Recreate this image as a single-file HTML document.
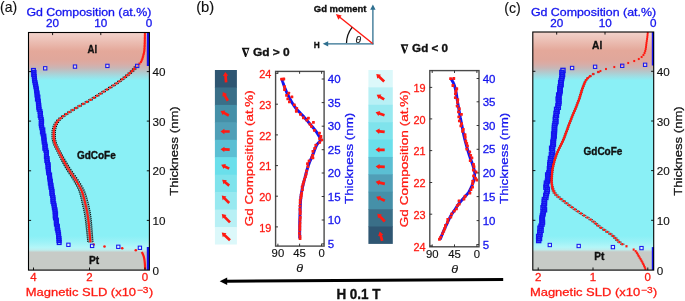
<!DOCTYPE html>
<html><head><meta charset="utf-8"><title>figure</title>
<style>html,body{margin:0;padding:0;background:#fff}svg{display:block;will-change:transform}text{font-family:"Liberation Sans",sans-serif}</style></head>
<body>
<svg width="685" height="301" viewBox="0 0 685 301" font-family='"Liberation Sans", sans-serif'>
<rect width="685" height="301" fill="#fff"/>
<defs>
<linearGradient id="bgA" x1="0" y1="0" x2="0" y2="1">
<stop offset="0.0000" stop-color="#f2d3cc"/>
<stop offset="0.0400" stop-color="#ebbdb2"/>
<stop offset="0.0779" stop-color="#e4a89a"/>
<stop offset="0.1136" stop-color="#e0a79b"/>
<stop offset="0.1326" stop-color="#d9aca6"/>
<stop offset="0.1494" stop-color="#c8b6b6"/>
<stop offset="0.1662" stop-color="#b4c8cc"/>
<stop offset="0.1831" stop-color="#a0dce2"/>
<stop offset="0.2020" stop-color="#8af0f6"/>
<stop offset="0.8565" stop-color="#8af0f6"/>
<stop offset="0.8817" stop-color="#9cf2f7"/>
<stop offset="0.9053" stop-color="#b4f6f8"/>
<stop offset="0.9154" stop-color="#bdeeee"/>
<stop offset="0.9251" stop-color="#c7cbc7"/>
<stop offset="1.0000" stop-color="#c7cbc7"/>
</linearGradient>
<linearGradient id="bgC" x1="0" y1="0" x2="0" y2="1">
<stop offset="0.0000" stop-color="#f2d3cc"/>
<stop offset="0.0399" stop-color="#ebbdb2"/>
<stop offset="0.0777" stop-color="#e4a89a"/>
<stop offset="0.1155" stop-color="#e0a79b"/>
<stop offset="0.1344" stop-color="#d9aca6"/>
<stop offset="0.1512" stop-color="#c8b6b6"/>
<stop offset="0.1680" stop-color="#b4c8cc"/>
<stop offset="0.1848" stop-color="#a0dce2"/>
<stop offset="0.2037" stop-color="#8af0f6"/>
<stop offset="0.8568" stop-color="#8af0f6"/>
<stop offset="0.8820" stop-color="#9cf2f7"/>
<stop offset="0.9038" stop-color="#b4f6f8"/>
<stop offset="0.9139" stop-color="#bdeeee"/>
<stop offset="0.9236" stop-color="#c7cbc7"/>
<stop offset="1.0000" stop-color="#c7cbc7"/>
</linearGradient>
</defs>
<rect x="28.5" y="32.5" width="120.9" height="237.6" fill="url(#bgA)"/>
<path d="M33.54 70.4 L34.43 76.35 L35.33 82.3 L36.23 88.26 L37.13 94.21 L38.02 100.16 L38.92 106.11 L39.81 112.06 L40.7 118.01 L41.59 123.97 L42.49 129.92 L43.38 135.87 L44.27 141.82 L45.2 147.77 L46.13 153.72 L47.06 159.68 L48 165.63 L48.93 171.58 L49.86 177.53 L50.76 183.48 L51.63 189.43 L52.51 195.39 L53.38 201.34 L54.25 207.29 L55.12 213.24 L55.99 219.19 L56.86 225.14 L57.73 231.1 L58.61 237.05 L59.48 243" fill="none" stroke="#1414ee" stroke-width="3.8" opacity="0.75"/>
<rect x="31.6" y="68.55" width="3.7" height="3.7" fill="none" stroke="#1414ee" stroke-width="1.3"/>
<rect x="32.22" y="70.6" width="3.7" height="3.7" fill="none" stroke="#1414ee" stroke-width="1.3"/>
<rect x="31.8" y="72.65" width="3.7" height="3.7" fill="none" stroke="#1414ee" stroke-width="1.3"/>
<rect x="32.42" y="74.7" width="3.7" height="3.7" fill="none" stroke="#1414ee" stroke-width="1.3"/>
<rect x="32.57" y="76.75" width="3.7" height="3.7" fill="none" stroke="#1414ee" stroke-width="1.3"/>
<rect x="32.82" y="78.8" width="3.7" height="3.7" fill="none" stroke="#1414ee" stroke-width="1.3"/>
<rect x="33.23" y="80.85" width="3.7" height="3.7" fill="none" stroke="#1414ee" stroke-width="1.3"/>
<rect x="33.7" y="82.9" width="3.7" height="3.7" fill="none" stroke="#1414ee" stroke-width="1.3"/>
<rect x="34.06" y="84.95" width="3.7" height="3.7" fill="none" stroke="#1414ee" stroke-width="1.3"/>
<rect x="34.51" y="87" width="3.7" height="3.7" fill="none" stroke="#1414ee" stroke-width="1.3"/>
<rect x="34.7" y="89.05" width="3.7" height="3.7" fill="none" stroke="#1414ee" stroke-width="1.3"/>
<rect x="35.27" y="91.1" width="3.7" height="3.7" fill="none" stroke="#1414ee" stroke-width="1.3"/>
<rect x="35.1" y="93.15" width="3.7" height="3.7" fill="none" stroke="#1414ee" stroke-width="1.3"/>
<rect x="36.08" y="95.2" width="3.7" height="3.7" fill="none" stroke="#1414ee" stroke-width="1.3"/>
<rect x="35.54" y="97.25" width="3.7" height="3.7" fill="none" stroke="#1414ee" stroke-width="1.3"/>
<rect x="36.49" y="99.3" width="3.7" height="3.7" fill="none" stroke="#1414ee" stroke-width="1.3"/>
<rect x="36.55" y="101.35" width="3.7" height="3.7" fill="none" stroke="#1414ee" stroke-width="1.3"/>
<rect x="37" y="103.4" width="3.7" height="3.7" fill="none" stroke="#1414ee" stroke-width="1.3"/>
<rect x="36.89" y="105.45" width="3.7" height="3.7" fill="none" stroke="#1414ee" stroke-width="1.3"/>
<rect x="37.25" y="107.5" width="3.7" height="3.7" fill="none" stroke="#1414ee" stroke-width="1.3"/>
<rect x="38.16" y="109.55" width="3.7" height="3.7" fill="none" stroke="#1414ee" stroke-width="1.3"/>
<rect x="38.64" y="111.6" width="3.7" height="3.7" fill="none" stroke="#1414ee" stroke-width="1.3"/>
<rect x="38.29" y="113.65" width="3.7" height="3.7" fill="none" stroke="#1414ee" stroke-width="1.3"/>
<rect x="38.97" y="115.7" width="3.7" height="3.7" fill="none" stroke="#1414ee" stroke-width="1.3"/>
<rect x="39.47" y="117.75" width="3.7" height="3.7" fill="none" stroke="#1414ee" stroke-width="1.3"/>
<rect x="39.79" y="119.8" width="3.7" height="3.7" fill="none" stroke="#1414ee" stroke-width="1.3"/>
<rect x="39.29" y="121.85" width="3.7" height="3.7" fill="none" stroke="#1414ee" stroke-width="1.3"/>
<rect x="39.55" y="123.9" width="3.7" height="3.7" fill="none" stroke="#1414ee" stroke-width="1.3"/>
<rect x="39.99" y="125.95" width="3.7" height="3.7" fill="none" stroke="#1414ee" stroke-width="1.3"/>
<rect x="41.01" y="128" width="3.7" height="3.7" fill="none" stroke="#1414ee" stroke-width="1.3"/>
<rect x="40.53" y="130.05" width="3.7" height="3.7" fill="none" stroke="#1414ee" stroke-width="1.3"/>
<rect x="41.16" y="132.1" width="3.7" height="3.7" fill="none" stroke="#1414ee" stroke-width="1.3"/>
<rect x="42.01" y="134.15" width="3.7" height="3.7" fill="none" stroke="#1414ee" stroke-width="1.3"/>
<rect x="41.89" y="136.2" width="3.7" height="3.7" fill="none" stroke="#1414ee" stroke-width="1.3"/>
<rect x="42.36" y="138.25" width="3.7" height="3.7" fill="none" stroke="#1414ee" stroke-width="1.3"/>
<rect x="42.29" y="140.3" width="3.7" height="3.7" fill="none" stroke="#1414ee" stroke-width="1.3"/>
<rect x="42.98" y="142.35" width="3.7" height="3.7" fill="none" stroke="#1414ee" stroke-width="1.3"/>
<rect x="43.45" y="144.4" width="3.7" height="3.7" fill="none" stroke="#1414ee" stroke-width="1.3"/>
<rect x="42.95" y="146.45" width="3.7" height="3.7" fill="none" stroke="#1414ee" stroke-width="1.3"/>
<rect x="44.01" y="148.5" width="3.7" height="3.7" fill="none" stroke="#1414ee" stroke-width="1.3"/>
<rect x="44.57" y="150.55" width="3.7" height="3.7" fill="none" stroke="#1414ee" stroke-width="1.3"/>
<rect x="44.65" y="152.6" width="3.7" height="3.7" fill="none" stroke="#1414ee" stroke-width="1.3"/>
<rect x="44.5" y="154.65" width="3.7" height="3.7" fill="none" stroke="#1414ee" stroke-width="1.3"/>
<rect x="45.33" y="156.7" width="3.7" height="3.7" fill="none" stroke="#1414ee" stroke-width="1.3"/>
<rect x="44.96" y="158.75" width="3.7" height="3.7" fill="none" stroke="#1414ee" stroke-width="1.3"/>
<rect x="45.63" y="160.8" width="3.7" height="3.7" fill="none" stroke="#1414ee" stroke-width="1.3"/>
<rect x="46.41" y="162.85" width="3.7" height="3.7" fill="none" stroke="#1414ee" stroke-width="1.3"/>
<rect x="46.11" y="164.9" width="3.7" height="3.7" fill="none" stroke="#1414ee" stroke-width="1.3"/>
<rect x="46.43" y="166.95" width="3.7" height="3.7" fill="none" stroke="#1414ee" stroke-width="1.3"/>
<rect x="46.59" y="169" width="3.7" height="3.7" fill="none" stroke="#1414ee" stroke-width="1.3"/>
<rect x="46.8" y="171.05" width="3.7" height="3.7" fill="none" stroke="#1414ee" stroke-width="1.3"/>
<rect x="47.78" y="173.1" width="3.7" height="3.7" fill="none" stroke="#1414ee" stroke-width="1.3"/>
<rect x="47.64" y="175.15" width="3.7" height="3.7" fill="none" stroke="#1414ee" stroke-width="1.3"/>
<rect x="48.01" y="177.2" width="3.7" height="3.7" fill="none" stroke="#1414ee" stroke-width="1.3"/>
<rect x="48.56" y="179.25" width="3.7" height="3.7" fill="none" stroke="#1414ee" stroke-width="1.3"/>
<rect x="48.42" y="181.3" width="3.7" height="3.7" fill="none" stroke="#1414ee" stroke-width="1.3"/>
<rect x="49.24" y="183.35" width="3.7" height="3.7" fill="none" stroke="#1414ee" stroke-width="1.3"/>
<rect x="49.11" y="185.4" width="3.7" height="3.7" fill="none" stroke="#1414ee" stroke-width="1.3"/>
<rect x="49.85" y="187.45" width="3.7" height="3.7" fill="none" stroke="#1414ee" stroke-width="1.3"/>
<rect x="50.26" y="189.5" width="3.7" height="3.7" fill="none" stroke="#1414ee" stroke-width="1.3"/>
<rect x="49.97" y="191.55" width="3.7" height="3.7" fill="none" stroke="#1414ee" stroke-width="1.3"/>
<rect x="50.58" y="193.6" width="3.7" height="3.7" fill="none" stroke="#1414ee" stroke-width="1.3"/>
<rect x="51.16" y="195.65" width="3.7" height="3.7" fill="none" stroke="#1414ee" stroke-width="1.3"/>
<rect x="51.18" y="197.7" width="3.7" height="3.7" fill="none" stroke="#1414ee" stroke-width="1.3"/>
<rect x="51.11" y="199.75" width="3.7" height="3.7" fill="none" stroke="#1414ee" stroke-width="1.3"/>
<rect x="51.9" y="201.8" width="3.7" height="3.7" fill="none" stroke="#1414ee" stroke-width="1.3"/>
<rect x="52.33" y="203.85" width="3.7" height="3.7" fill="none" stroke="#1414ee" stroke-width="1.3"/>
<rect x="52.48" y="205.9" width="3.7" height="3.7" fill="none" stroke="#1414ee" stroke-width="1.3"/>
<rect x="53.21" y="207.95" width="3.7" height="3.7" fill="none" stroke="#1414ee" stroke-width="1.3"/>
<rect x="53.15" y="210" width="3.7" height="3.7" fill="none" stroke="#1414ee" stroke-width="1.3"/>
<rect x="53.77" y="212.05" width="3.7" height="3.7" fill="none" stroke="#1414ee" stroke-width="1.3"/>
<rect x="53.3" y="214.1" width="3.7" height="3.7" fill="none" stroke="#1414ee" stroke-width="1.3"/>
<rect x="53.6" y="216.15" width="3.7" height="3.7" fill="none" stroke="#1414ee" stroke-width="1.3"/>
<rect x="54.57" y="218.2" width="3.7" height="3.7" fill="none" stroke="#1414ee" stroke-width="1.3"/>
<rect x="54.46" y="220.25" width="3.7" height="3.7" fill="none" stroke="#1414ee" stroke-width="1.3"/>
<rect x="54.53" y="222.3" width="3.7" height="3.7" fill="none" stroke="#1414ee" stroke-width="1.3"/>
<rect x="55.59" y="224.35" width="3.7" height="3.7" fill="none" stroke="#1414ee" stroke-width="1.3"/>
<rect x="55.31" y="226.4" width="3.7" height="3.7" fill="none" stroke="#1414ee" stroke-width="1.3"/>
<rect x="56.02" y="228.45" width="3.7" height="3.7" fill="none" stroke="#1414ee" stroke-width="1.3"/>
<rect x="56.29" y="230.5" width="3.7" height="3.7" fill="none" stroke="#1414ee" stroke-width="1.3"/>
<rect x="56.75" y="232.55" width="3.7" height="3.7" fill="none" stroke="#1414ee" stroke-width="1.3"/>
<rect x="56.79" y="234.6" width="3.7" height="3.7" fill="none" stroke="#1414ee" stroke-width="1.3"/>
<rect x="57.22" y="236.65" width="3.7" height="3.7" fill="none" stroke="#1414ee" stroke-width="1.3"/>
<rect x="57.12" y="238.7" width="3.7" height="3.7" fill="none" stroke="#1414ee" stroke-width="1.3"/>
<rect x="57.34" y="240.75" width="3.7" height="3.7" fill="none" stroke="#1414ee" stroke-width="1.3"/>
<line x1="147.9" y1="32.5" x2="147.9" y2="66" stroke="#1414ee" stroke-width="2.2"/>
<line x1="147.9" y1="247" x2="147.9" y2="270" stroke="#1414ee" stroke-width="2.2"/>
<rect x="143.9" y="32.1" width="2" height="2.2" fill="#ff1a12"/>
<rect x="143.89" y="33.7" width="2" height="2.2" fill="#ff1a12"/>
<rect x="143.86" y="35.3" width="2" height="2.2" fill="#ff1a12"/>
<rect x="143.84" y="36.9" width="2" height="2.2" fill="#ff1a12"/>
<rect x="143.81" y="38.5" width="2" height="2.2" fill="#ff1a12"/>
<rect x="143.78" y="40.1" width="2" height="2.2" fill="#ff1a12"/>
<rect x="143.74" y="41.7" width="2" height="2.2" fill="#ff1a12"/>
<rect x="143.69" y="43.3" width="2" height="2.2" fill="#ff1a12"/>
<rect x="143.63" y="44.9" width="2" height="2.2" fill="#ff1a12"/>
<rect x="143.55" y="46.5" width="2" height="2.2" fill="#ff1a12"/>
<rect x="143.45" y="48.1" width="2" height="2.2" fill="#ff1a12"/>
<rect x="143.32" y="49.7" width="2" height="2.2" fill="#ff1a12"/>
<rect x="143.03" y="51.3" width="2" height="2.2" fill="#ff1a12"/>
<rect x="142.65" y="52.9" width="2" height="2.2" fill="#ff1a12"/>
<rect x="142.25" y="54.5" width="2" height="2.2" fill="#ff1a12"/>
<rect x="141.83" y="56.1" width="2" height="2.2" fill="#ff1a12"/>
<rect x="141.34" y="57.7" width="2" height="2.2" fill="#ff1a12"/>
<rect x="140.74" y="59.3" width="2" height="2.2" fill="#ff1a12"/>
<rect x="139.93" y="60.9" width="2" height="2.2" fill="#ff1a12"/>
<rect x="138.47" y="62.5" width="2" height="2.2" fill="#ff1a12"/>
<rect x="136.5" y="64.1" width="2" height="2.2" fill="#ff1a12"/>
<path d="M134.19 67 h3.4" stroke="#222" stroke-width="0.5" opacity="0.6"/>
<rect x="133.64" y="66.35" width="1.1" height="1.3" fill="#111" opacity="1"/>
<rect x="137.04" y="66.35" width="1.1" height="1.3" fill="#111" opacity="1"/>
<path d="M132.44 69.05 h3.4" stroke="#222" stroke-width="0.5" opacity="0.6"/>
<rect x="131.89" y="68.4" width="1.1" height="1.3" fill="#111" opacity="1"/>
<rect x="135.29" y="68.4" width="1.1" height="1.3" fill="#111" opacity="1"/>
<path d="M130.37 71.1 h3.4" stroke="#222" stroke-width="0.5" opacity="0.6"/>
<rect x="129.82" y="70.45" width="1.1" height="1.3" fill="#111" opacity="1"/>
<rect x="133.22" y="70.45" width="1.1" height="1.3" fill="#111" opacity="1"/>
<path d="M128.1 73.15 h3.4" stroke="#222" stroke-width="0.5" opacity="0.6"/>
<rect x="127.55" y="72.5" width="1.1" height="1.3" fill="#111" opacity="1"/>
<rect x="130.95" y="72.5" width="1.1" height="1.3" fill="#111" opacity="1"/>
<path d="M125.7 75.2 h3.4" stroke="#222" stroke-width="0.5" opacity="0.6"/>
<rect x="125.15" y="74.55" width="1.1" height="1.3" fill="#111" opacity="1"/>
<rect x="128.55" y="74.55" width="1.1" height="1.3" fill="#111" opacity="1"/>
<path d="M123.17 77.25 h3.4" stroke="#222" stroke-width="0.5" opacity="0.6"/>
<rect x="122.62" y="76.6" width="1.1" height="1.3" fill="#111" opacity="1"/>
<rect x="126.02" y="76.6" width="1.1" height="1.3" fill="#111" opacity="1"/>
<path d="M120.5 79.3 h3.4" stroke="#222" stroke-width="0.5" opacity="0.6"/>
<rect x="119.95" y="78.65" width="1.1" height="1.3" fill="#111" opacity="1"/>
<rect x="123.35" y="78.65" width="1.1" height="1.3" fill="#111" opacity="1"/>
<path d="M117.7 81.35 h3.4" stroke="#222" stroke-width="0.5" opacity="0.6"/>
<rect x="117.15" y="80.7" width="1.1" height="1.3" fill="#111" opacity="1"/>
<rect x="120.55" y="80.7" width="1.1" height="1.3" fill="#111" opacity="1"/>
<path d="M114.8 83.4 h3.4" stroke="#222" stroke-width="0.5" opacity="0.6"/>
<rect x="114.25" y="82.75" width="1.1" height="1.3" fill="#111" opacity="1"/>
<rect x="117.65" y="82.75" width="1.1" height="1.3" fill="#111" opacity="1"/>
<path d="M111.74 85.45 h3.4" stroke="#222" stroke-width="0.5" opacity="0.6"/>
<rect x="111.19" y="84.8" width="1.1" height="1.3" fill="#111" opacity="1"/>
<rect x="114.59" y="84.8" width="1.1" height="1.3" fill="#111" opacity="1"/>
<path d="M108.52 87.5 h3.4" stroke="#222" stroke-width="0.5" opacity="0.6"/>
<rect x="107.97" y="86.85" width="1.1" height="1.3" fill="#111" opacity="1"/>
<rect x="111.37" y="86.85" width="1.1" height="1.3" fill="#111" opacity="1"/>
<path d="M105.22 89.55 h3.4" stroke="#222" stroke-width="0.5" opacity="0.6"/>
<rect x="104.67" y="88.9" width="1.1" height="1.3" fill="#111" opacity="1"/>
<rect x="108.07" y="88.9" width="1.1" height="1.3" fill="#111" opacity="1"/>
<path d="M101.93 91.6 h3.4" stroke="#222" stroke-width="0.5" opacity="0.6"/>
<rect x="101.38" y="90.95" width="1.1" height="1.3" fill="#111" opacity="1"/>
<rect x="104.78" y="90.95" width="1.1" height="1.3" fill="#111" opacity="1"/>
<path d="M98.71 93.65 h3.4" stroke="#222" stroke-width="0.5" opacity="0.6"/>
<rect x="98.16" y="93" width="1.1" height="1.3" fill="#111" opacity="1"/>
<rect x="101.56" y="93" width="1.1" height="1.3" fill="#111" opacity="1"/>
<path d="M95.51 95.7 h3.4" stroke="#222" stroke-width="0.5" opacity="0.6"/>
<rect x="94.96" y="95.05" width="1.1" height="1.3" fill="#111" opacity="1"/>
<rect x="98.36" y="95.05" width="1.1" height="1.3" fill="#111" opacity="1"/>
<path d="M92.25 97.75 h3.4" stroke="#222" stroke-width="0.5" opacity="0.6"/>
<rect x="91.7" y="97.1" width="1.1" height="1.3" fill="#111" opacity="1"/>
<rect x="95.1" y="97.1" width="1.1" height="1.3" fill="#111" opacity="1"/>
<path d="M88.85 99.8 h3.4" stroke="#222" stroke-width="0.5" opacity="0.6"/>
<rect x="88.3" y="99.15" width="1.1" height="1.3" fill="#111" opacity="1"/>
<rect x="91.7" y="99.15" width="1.1" height="1.3" fill="#111" opacity="1"/>
<path d="M85.22 101.85 h3.4" stroke="#222" stroke-width="0.5" opacity="0.6"/>
<rect x="84.67" y="101.2" width="1.1" height="1.3" fill="#111" opacity="1"/>
<rect x="88.07" y="101.2" width="1.1" height="1.3" fill="#111" opacity="1"/>
<path d="M81.5 103.9 h3.4" stroke="#222" stroke-width="0.5" opacity="0.6"/>
<rect x="80.95" y="103.25" width="1.1" height="1.3" fill="#111" opacity="1"/>
<rect x="84.35" y="103.25" width="1.1" height="1.3" fill="#111" opacity="1"/>
<path d="M77.9 105.95 h3.4" stroke="#222" stroke-width="0.5" opacity="0.6"/>
<rect x="77.35" y="105.3" width="1.1" height="1.3" fill="#111" opacity="1"/>
<rect x="80.75" y="105.3" width="1.1" height="1.3" fill="#111" opacity="1"/>
<path d="M74.4 108 h3.4" stroke="#222" stroke-width="0.5" opacity="0.6"/>
<rect x="73.85" y="107.35" width="1.1" height="1.3" fill="#111" opacity="1"/>
<rect x="77.25" y="107.35" width="1.1" height="1.3" fill="#111" opacity="1"/>
<path d="M70.98 110.05 h3.4" stroke="#222" stroke-width="0.5" opacity="0.6"/>
<rect x="70.43" y="109.4" width="1.1" height="1.3" fill="#111" opacity="1"/>
<rect x="73.83" y="109.4" width="1.1" height="1.3" fill="#111" opacity="1"/>
<path d="M67.68 112.1 h3.4" stroke="#222" stroke-width="0.5" opacity="0.6"/>
<rect x="67.13" y="111.45" width="1.1" height="1.3" fill="#111" opacity="1"/>
<rect x="70.53" y="111.45" width="1.1" height="1.3" fill="#111" opacity="1"/>
<path d="M64.46 114.15 h3.4" stroke="#222" stroke-width="0.5" opacity="0.6"/>
<rect x="63.91" y="113.5" width="1.1" height="1.3" fill="#111" opacity="1"/>
<rect x="67.31" y="113.5" width="1.1" height="1.3" fill="#111" opacity="1"/>
<path d="M61.49 116.2 h3.4" stroke="#222" stroke-width="0.5" opacity="0.6"/>
<rect x="60.94" y="115.55" width="1.1" height="1.3" fill="#111" opacity="1"/>
<rect x="64.34" y="115.55" width="1.1" height="1.3" fill="#111" opacity="1"/>
<path d="M58.89 118.25 h3.4" stroke="#222" stroke-width="0.5" opacity="0.6"/>
<rect x="58.34" y="117.6" width="1.1" height="1.3" fill="#111" opacity="1"/>
<rect x="61.74" y="117.6" width="1.1" height="1.3" fill="#111" opacity="1"/>
<path d="M56.69 120.3 h3.4" stroke="#222" stroke-width="0.5" opacity="0.6"/>
<rect x="56.14" y="119.65" width="1.1" height="1.3" fill="#111" opacity="1"/>
<rect x="59.54" y="119.65" width="1.1" height="1.3" fill="#111" opacity="1"/>
<path d="M55.17 122.35 h3.4" stroke="#222" stroke-width="0.5" opacity="0.6"/>
<rect x="54.62" y="121.7" width="1.1" height="1.3" fill="#111" opacity="1"/>
<rect x="58.02" y="121.7" width="1.1" height="1.3" fill="#111" opacity="1"/>
<path d="M53.95 124.4 h3.4" stroke="#222" stroke-width="0.5" opacity="0.6"/>
<rect x="53.4" y="123.75" width="1.1" height="1.3" fill="#111" opacity="1"/>
<rect x="56.8" y="123.75" width="1.1" height="1.3" fill="#111" opacity="1"/>
<path d="M53.11 126.45 h3.4" stroke="#222" stroke-width="0.5" opacity="0.6"/>
<rect x="52.56" y="125.8" width="1.1" height="1.3" fill="#111" opacity="1"/>
<rect x="55.96" y="125.8" width="1.1" height="1.3" fill="#111" opacity="1"/>
<path d="M52.54 128.5 h3.4" stroke="#222" stroke-width="0.5" opacity="0.6"/>
<rect x="51.99" y="127.85" width="1.1" height="1.3" fill="#111" opacity="1"/>
<rect x="55.39" y="127.85" width="1.1" height="1.3" fill="#111" opacity="1"/>
<path d="M52.12 130.55 h3.4" stroke="#222" stroke-width="0.5" opacity="0.6"/>
<rect x="51.57" y="129.9" width="1.1" height="1.3" fill="#111" opacity="1"/>
<rect x="54.97" y="129.9" width="1.1" height="1.3" fill="#111" opacity="1"/>
<path d="M52 132.6 h3.4" stroke="#222" stroke-width="0.5" opacity="0.6"/>
<rect x="51.45" y="131.95" width="1.1" height="1.3" fill="#111" opacity="1"/>
<rect x="54.85" y="131.95" width="1.1" height="1.3" fill="#111" opacity="1"/>
<path d="M52 134.65 h3.4" stroke="#222" stroke-width="0.5" opacity="0.6"/>
<rect x="51.45" y="134" width="1.1" height="1.3" fill="#111" opacity="1"/>
<rect x="54.85" y="134" width="1.1" height="1.3" fill="#111" opacity="1"/>
<path d="M52 136.7 h3.4" stroke="#222" stroke-width="0.5" opacity="0.6"/>
<rect x="51.45" y="136.05" width="1.1" height="1.3" fill="#111" opacity="1"/>
<rect x="54.85" y="136.05" width="1.1" height="1.3" fill="#111" opacity="1"/>
<path d="M52.08 138.75 h3.4" stroke="#222" stroke-width="0.5" opacity="0.6"/>
<rect x="51.53" y="138.1" width="1.1" height="1.3" fill="#111" opacity="1"/>
<rect x="54.93" y="138.1" width="1.1" height="1.3" fill="#111" opacity="1"/>
<path d="M52.5 140.8 h3.4" stroke="#222" stroke-width="0.5" opacity="0.6"/>
<rect x="51.95" y="140.15" width="1.1" height="1.3" fill="#111" opacity="1"/>
<rect x="55.35" y="140.15" width="1.1" height="1.3" fill="#111" opacity="1"/>
<path d="M53.05 142.85 h3.4" stroke="#222" stroke-width="0.5" opacity="0.6"/>
<rect x="52.5" y="142.2" width="1.1" height="1.3" fill="#111" opacity="1"/>
<rect x="55.9" y="142.2" width="1.1" height="1.3" fill="#111" opacity="1"/>
<path d="M53.79 144.9 h3.4" stroke="#222" stroke-width="0.5" opacity="0.6"/>
<rect x="53.24" y="144.25" width="1.1" height="1.3" fill="#111" opacity="1"/>
<rect x="56.64" y="144.25" width="1.1" height="1.3" fill="#111" opacity="1"/>
<path d="M54.71 146.95 h3.4" stroke="#222" stroke-width="0.5" opacity="0.6"/>
<rect x="54.16" y="146.3" width="1.1" height="1.3" fill="#111" opacity="1"/>
<rect x="57.56" y="146.3" width="1.1" height="1.3" fill="#111" opacity="1"/>
<path d="M55.74 149 h3.4" stroke="#222" stroke-width="0.5" opacity="0.6"/>
<rect x="55.19" y="148.35" width="1.1" height="1.3" fill="#111" opacity="1"/>
<rect x="58.59" y="148.35" width="1.1" height="1.3" fill="#111" opacity="1"/>
<path d="M56.8 151.05 h3.45" stroke="#222" stroke-width="0.5" opacity="0.6"/>
<rect x="56.25" y="150.4" width="1.1" height="1.3" fill="#111" opacity="1"/>
<rect x="59.7" y="150.4" width="1.1" height="1.3" fill="#111" opacity="1"/>
<path d="M57.82 153.1 h3.56" stroke="#222" stroke-width="0.5" opacity="0.6"/>
<rect x="57.27" y="152.45" width="1.1" height="1.3" fill="#111" opacity="1"/>
<rect x="60.83" y="152.45" width="1.1" height="1.3" fill="#111" opacity="1"/>
<path d="M58.8 155.15 h3.66" stroke="#222" stroke-width="0.5" opacity="0.6"/>
<rect x="58.25" y="154.5" width="1.1" height="1.3" fill="#111" opacity="1"/>
<rect x="61.91" y="154.5" width="1.1" height="1.3" fill="#111" opacity="1"/>
<path d="M59.8 157.2 h3.77" stroke="#222" stroke-width="0.5" opacity="0.6"/>
<rect x="59.25" y="156.55" width="1.1" height="1.3" fill="#111" opacity="1"/>
<rect x="63.02" y="156.55" width="1.1" height="1.3" fill="#111" opacity="1"/>
<path d="M60.83 159.25 h3.88" stroke="#222" stroke-width="0.5" opacity="0.6"/>
<rect x="60.28" y="158.6" width="1.1" height="1.3" fill="#111" opacity="1"/>
<rect x="64.16" y="158.6" width="1.1" height="1.3" fill="#111" opacity="1"/>
<path d="M61.9 161.3 h3.98" stroke="#222" stroke-width="0.5" opacity="0.6"/>
<rect x="61.35" y="160.65" width="1.1" height="1.3" fill="#111" opacity="1"/>
<rect x="65.33" y="160.65" width="1.1" height="1.3" fill="#111" opacity="1"/>
<path d="M63 163.35 h4.09" stroke="#222" stroke-width="0.5" opacity="0.6"/>
<rect x="62.45" y="162.7" width="1.1" height="1.3" fill="#111" opacity="1"/>
<rect x="66.54" y="162.7" width="1.1" height="1.3" fill="#111" opacity="1"/>
<path d="M64.13 165.4 h4.19" stroke="#222" stroke-width="0.5" opacity="0.6"/>
<rect x="63.58" y="164.75" width="1.1" height="1.3" fill="#111" opacity="1"/>
<rect x="67.77" y="164.75" width="1.1" height="1.3" fill="#111" opacity="1"/>
<path d="M65.28 167.45 h4.3" stroke="#222" stroke-width="0.5" opacity="0.6"/>
<rect x="64.73" y="166.8" width="1.1" height="1.3" fill="#111" opacity="1"/>
<rect x="69.03" y="166.8" width="1.1" height="1.3" fill="#111" opacity="1"/>
<path d="M66.49 169.5 h4.4" stroke="#222" stroke-width="0.5" opacity="0.6"/>
<rect x="65.94" y="168.85" width="1.1" height="1.3" fill="#111" opacity="1"/>
<rect x="70.34" y="168.85" width="1.1" height="1.3" fill="#111" opacity="1"/>
<path d="M67.78 171.55 h4.51" stroke="#222" stroke-width="0.5" opacity="0.6"/>
<rect x="67.23" y="170.9" width="1.1" height="1.3" fill="#111" opacity="1"/>
<rect x="71.74" y="170.9" width="1.1" height="1.3" fill="#111" opacity="1"/>
<path d="M69.13 173.6 h4.61" stroke="#222" stroke-width="0.5" opacity="0.6"/>
<rect x="68.58" y="172.95" width="1.1" height="1.3" fill="#111" opacity="1"/>
<rect x="73.19" y="172.95" width="1.1" height="1.3" fill="#111" opacity="1"/>
<path d="M70.49 175.65 h4.72" stroke="#222" stroke-width="0.5" opacity="0.6"/>
<rect x="69.94" y="175" width="1.1" height="1.3" fill="#111" opacity="1"/>
<rect x="74.66" y="175" width="1.1" height="1.3" fill="#111" opacity="1"/>
<path d="M71.83 177.7 h4.82" stroke="#222" stroke-width="0.5" opacity="0.6"/>
<rect x="71.28" y="177.05" width="1.1" height="1.3" fill="#111" opacity="1"/>
<rect x="76.1" y="177.05" width="1.1" height="1.3" fill="#111" opacity="1"/>
<path d="M73.11 179.75 h4.93" stroke="#222" stroke-width="0.5" opacity="0.6"/>
<rect x="72.56" y="179.1" width="1.1" height="1.3" fill="#111" opacity="1"/>
<rect x="77.49" y="179.1" width="1.1" height="1.3" fill="#111" opacity="1"/>
<path d="M74.3 181.8 h5.04" stroke="#222" stroke-width="0.5" opacity="0.6"/>
<rect x="73.75" y="181.15" width="1.1" height="1.3" fill="#111" opacity="1"/>
<rect x="78.78" y="181.15" width="1.1" height="1.3" fill="#111" opacity="1"/>
<path d="M75.46 183.85 h5.14" stroke="#222" stroke-width="0.5" opacity="0.6"/>
<rect x="74.91" y="183.2" width="1.1" height="1.3" fill="#111" opacity="1"/>
<rect x="80.05" y="183.2" width="1.1" height="1.3" fill="#111" opacity="1"/>
<path d="M76.6 185.9 h5.24" stroke="#222" stroke-width="0.5" opacity="0.6"/>
<rect x="76.05" y="185.25" width="1.1" height="1.3" fill="#111" opacity="1"/>
<rect x="81.3" y="185.25" width="1.1" height="1.3" fill="#111" opacity="1"/>
<path d="M77.66 187.95 h5.35" stroke="#222" stroke-width="0.5" opacity="0.6"/>
<rect x="77.11" y="187.3" width="1.1" height="1.3" fill="#111" opacity="1"/>
<rect x="82.46" y="187.3" width="1.1" height="1.3" fill="#111" opacity="1"/>
<path d="M78.59 190 h5.45" stroke="#222" stroke-width="0.5" opacity="0.6"/>
<rect x="78.04" y="189.35" width="1.1" height="1.3" fill="#111" opacity="1"/>
<rect x="83.49" y="189.35" width="1.1" height="1.3" fill="#111" opacity="1"/>
<path d="M79.33 192.05 h5.55" stroke="#222" stroke-width="0.5" opacity="0.6"/>
<rect x="78.78" y="191.4" width="1.1" height="1.3" fill="#111" opacity="1"/>
<rect x="84.33" y="191.4" width="1.1" height="1.3" fill="#111" opacity="1"/>
<path d="M79.96 194.1 h5.65" stroke="#222" stroke-width="0.5" opacity="0.6"/>
<rect x="79.41" y="193.45" width="1.1" height="1.3" fill="#111" opacity="1"/>
<rect x="85.07" y="193.45" width="1.1" height="1.3" fill="#111" opacity="1"/>
<path d="M80.52 196.15 h5.76" stroke="#222" stroke-width="0.5" opacity="0.6"/>
<rect x="79.97" y="195.5" width="1.1" height="1.3" fill="#111" opacity="1"/>
<rect x="85.73" y="195.5" width="1.1" height="1.3" fill="#111" opacity="1"/>
<path d="M81.02 198.2 h5.86" stroke="#222" stroke-width="0.5" opacity="0.6"/>
<rect x="80.47" y="197.55" width="1.1" height="1.3" fill="#111" opacity="1"/>
<rect x="86.33" y="197.55" width="1.1" height="1.3" fill="#111" opacity="1"/>
<path d="M81.49 200.25 h5.96" stroke="#222" stroke-width="0.5" opacity="0.6"/>
<rect x="80.94" y="199.6" width="1.1" height="1.3" fill="#111" opacity="1"/>
<rect x="86.9" y="199.6" width="1.1" height="1.3" fill="#111" opacity="1"/>
<path d="M81.93 202.3 h6.06" stroke="#222" stroke-width="0.5" opacity="0.6"/>
<rect x="81.38" y="201.65" width="1.1" height="1.3" fill="#111" opacity="1"/>
<rect x="87.45" y="201.65" width="1.1" height="1.3" fill="#111" opacity="1"/>
<path d="M82.37 204.35 h6.17" stroke="#222" stroke-width="0.5" opacity="0.6"/>
<rect x="81.82" y="203.7" width="1.1" height="1.3" fill="#111" opacity="1"/>
<rect x="87.99" y="203.7" width="1.1" height="1.3" fill="#111" opacity="1"/>
<path d="M82.86 206.4 h6.17" stroke="#222" stroke-width="0.5" opacity="0.6"/>
<rect x="82.31" y="205.75" width="1.1" height="1.3" fill="#111" opacity="1"/>
<rect x="88.48" y="205.75" width="1.1" height="1.3" fill="#111" opacity="1"/>
<path d="M83.35 208.45 h6.11" stroke="#222" stroke-width="0.5" opacity="0.6"/>
<rect x="82.8" y="207.8" width="1.1" height="1.3" fill="#111" opacity="1"/>
<rect x="88.92" y="207.8" width="1.1" height="1.3" fill="#111" opacity="1"/>
<path d="M83.81 210.5 h6.06" stroke="#222" stroke-width="0.5" opacity="0.6"/>
<rect x="83.26" y="209.85" width="1.1" height="1.3" fill="#111" opacity="1"/>
<rect x="89.33" y="209.85" width="1.1" height="1.3" fill="#111" opacity="1"/>
<path d="M84.23 212.55 h6.01" stroke="#222" stroke-width="0.5" opacity="0.6"/>
<rect x="83.68" y="211.9" width="1.1" height="1.3" fill="#111" opacity="1"/>
<rect x="89.69" y="211.9" width="1.1" height="1.3" fill="#111" opacity="1"/>
<path d="M84.6 214.6 h5.96" stroke="#222" stroke-width="0.5" opacity="0.6"/>
<rect x="84.05" y="213.95" width="1.1" height="1.3" fill="#111" opacity="1"/>
<rect x="90.01" y="213.95" width="1.1" height="1.3" fill="#111" opacity="1"/>
<path d="M84.93 216.65 h5.91" stroke="#222" stroke-width="0.5" opacity="0.6"/>
<rect x="84.38" y="216" width="1.1" height="1.3" fill="#111" opacity="1"/>
<rect x="90.28" y="216" width="1.1" height="1.3" fill="#111" opacity="1"/>
<path d="M85.23 218.7 h5.86" stroke="#222" stroke-width="0.5" opacity="0.6"/>
<rect x="84.68" y="218.05" width="1.1" height="1.3" fill="#111" opacity="1"/>
<rect x="90.53" y="218.05" width="1.1" height="1.3" fill="#111" opacity="1"/>
<path d="M85.5 220.75 h5.81" stroke="#222" stroke-width="0.5" opacity="0.6"/>
<rect x="84.95" y="220.1" width="1.1" height="1.3" fill="#111" opacity="1"/>
<rect x="90.76" y="220.1" width="1.1" height="1.3" fill="#111" opacity="1"/>
<path d="M85.75 222.8 h5.76" stroke="#222" stroke-width="0.5" opacity="0.6"/>
<rect x="85.2" y="222.15" width="1.1" height="1.3" fill="#111" opacity="1"/>
<rect x="90.96" y="222.15" width="1.1" height="1.3" fill="#111" opacity="1"/>
<path d="M85.97 224.85 h5.7" stroke="#222" stroke-width="0.5" opacity="0.6"/>
<rect x="85.42" y="224.2" width="1.1" height="1.3" fill="#111" opacity="1"/>
<rect x="91.13" y="224.2" width="1.1" height="1.3" fill="#111" opacity="1"/>
<path d="M86.18 226.9 h5.65" stroke="#222" stroke-width="0.5" opacity="0.6"/>
<rect x="85.63" y="226.25" width="1.1" height="1.3" fill="#111" opacity="1"/>
<rect x="91.29" y="226.25" width="1.1" height="1.3" fill="#111" opacity="1"/>
<path d="M86.39 228.95 h5.6" stroke="#222" stroke-width="0.5" opacity="0.6"/>
<rect x="85.84" y="228.3" width="1.1" height="1.3" fill="#111" opacity="1"/>
<rect x="91.45" y="228.3" width="1.1" height="1.3" fill="#111" opacity="1"/>
<path d="M86.62 231 h5.54" stroke="#222" stroke-width="0.5" opacity="0.6"/>
<rect x="86.07" y="230.35" width="1.1" height="1.3" fill="#111" opacity="1"/>
<rect x="91.6" y="230.35" width="1.1" height="1.3" fill="#111" opacity="1"/>
<path d="M86.84 233.05 h5.48" stroke="#222" stroke-width="0.5" opacity="0.6"/>
<rect x="86.29" y="232.4" width="1.1" height="1.3" fill="#111" opacity="1"/>
<rect x="91.76" y="232.4" width="1.1" height="1.3" fill="#111" opacity="1"/>
<path d="M87.06 235.1 h5.41" stroke="#222" stroke-width="0.5" opacity="0.6"/>
<rect x="86.51" y="234.45" width="1.1" height="1.3" fill="#111" opacity="1"/>
<rect x="91.92" y="234.45" width="1.1" height="1.3" fill="#111" opacity="1"/>
<path d="M87.27 237.15 h5.35" stroke="#222" stroke-width="0.5" opacity="0.6"/>
<rect x="86.72" y="236.5" width="1.1" height="1.3" fill="#111" opacity="1"/>
<rect x="92.07" y="236.5" width="1.1" height="1.3" fill="#111" opacity="1"/>
<path d="M87.49 239.2 h5.29" stroke="#222" stroke-width="0.5" opacity="0.6"/>
<rect x="86.94" y="238.55" width="1.1" height="1.3" fill="#111" opacity="1"/>
<rect x="92.23" y="238.55" width="1.1" height="1.3" fill="#111" opacity="1"/>
<path d="M87.7 241.25 h5.22" stroke="#222" stroke-width="0.5" opacity="0.6"/>
<rect x="87.15" y="240.6" width="1.1" height="1.3" fill="#111" opacity="1"/>
<rect x="92.38" y="240.6" width="1.1" height="1.3" fill="#111" opacity="1"/>
<path d="M61.42 160 h3.51" stroke="#222" stroke-width="0.5" opacity="0.6"/>
<rect x="60.97" y="159.45" width="0.9" height="1.1" fill="#111" opacity="0.55"/>
<rect x="64.49" y="159.45" width="0.9" height="1.1" fill="#111" opacity="0.55"/>
<path d="M62.54 162.05 h3.54" stroke="#222" stroke-width="0.5" opacity="0.6"/>
<rect x="62.09" y="161.5" width="0.9" height="1.1" fill="#111" opacity="0.55"/>
<rect x="65.63" y="161.5" width="0.9" height="1.1" fill="#111" opacity="0.55"/>
<path d="M63.69 164.1 h3.56" stroke="#222" stroke-width="0.5" opacity="0.6"/>
<rect x="63.24" y="163.55" width="0.9" height="1.1" fill="#111" opacity="0.55"/>
<rect x="66.8" y="163.55" width="0.9" height="1.1" fill="#111" opacity="0.55"/>
<path d="M64.87 166.15 h3.58" stroke="#222" stroke-width="0.5" opacity="0.6"/>
<rect x="64.42" y="165.6" width="0.9" height="1.1" fill="#111" opacity="0.55"/>
<rect x="68" y="165.6" width="0.9" height="1.1" fill="#111" opacity="0.55"/>
<path d="M66.08 168.2 h3.61" stroke="#222" stroke-width="0.5" opacity="0.6"/>
<rect x="65.63" y="167.65" width="0.9" height="1.1" fill="#111" opacity="0.55"/>
<rect x="69.23" y="167.65" width="0.9" height="1.1" fill="#111" opacity="0.55"/>
<path d="M67.36 170.25 h3.63" stroke="#222" stroke-width="0.5" opacity="0.6"/>
<rect x="66.91" y="169.7" width="0.9" height="1.1" fill="#111" opacity="0.55"/>
<rect x="70.54" y="169.7" width="0.9" height="1.1" fill="#111" opacity="0.55"/>
<path d="M68.72 172.3 h3.65" stroke="#222" stroke-width="0.5" opacity="0.6"/>
<rect x="68.27" y="171.75" width="0.9" height="1.1" fill="#111" opacity="0.55"/>
<rect x="71.92" y="171.75" width="0.9" height="1.1" fill="#111" opacity="0.55"/>
<path d="M70.11 174.35 h3.68" stroke="#222" stroke-width="0.5" opacity="0.6"/>
<rect x="69.66" y="173.8" width="0.9" height="1.1" fill="#111" opacity="0.55"/>
<rect x="73.34" y="173.8" width="0.9" height="1.1" fill="#111" opacity="0.55"/>
<path d="M71.51 176.4 h3.7" stroke="#222" stroke-width="0.5" opacity="0.6"/>
<rect x="71.06" y="175.85" width="0.9" height="1.1" fill="#111" opacity="0.55"/>
<rect x="74.76" y="175.85" width="0.9" height="1.1" fill="#111" opacity="0.55"/>
<path d="M72.87 178.45 h3.73" stroke="#222" stroke-width="0.5" opacity="0.6"/>
<rect x="72.42" y="177.9" width="0.9" height="1.1" fill="#111" opacity="0.55"/>
<rect x="76.15" y="177.9" width="0.9" height="1.1" fill="#111" opacity="0.55"/>
<path d="M74.17 180.5 h3.75" stroke="#222" stroke-width="0.5" opacity="0.6"/>
<rect x="73.72" y="179.95" width="0.9" height="1.1" fill="#111" opacity="0.55"/>
<rect x="77.46" y="179.95" width="0.9" height="1.1" fill="#111" opacity="0.55"/>
<path d="M75.37 182.55 h3.77" stroke="#222" stroke-width="0.5" opacity="0.6"/>
<rect x="74.92" y="182" width="0.9" height="1.1" fill="#111" opacity="0.55"/>
<rect x="78.69" y="182" width="0.9" height="1.1" fill="#111" opacity="0.55"/>
<path d="M76.57 184.6 h3.8" stroke="#222" stroke-width="0.5" opacity="0.6"/>
<rect x="76.12" y="184.05" width="0.9" height="1.1" fill="#111" opacity="0.55"/>
<rect x="79.92" y="184.05" width="0.9" height="1.1" fill="#111" opacity="0.55"/>
<path d="M77.73 186.65 h3.83" stroke="#222" stroke-width="0.5" opacity="0.6"/>
<rect x="77.28" y="186.1" width="0.9" height="1.1" fill="#111" opacity="0.55"/>
<rect x="81.11" y="186.1" width="0.9" height="1.1" fill="#111" opacity="0.55"/>
<path d="M78.78 188.7 h3.87" stroke="#222" stroke-width="0.5" opacity="0.6"/>
<rect x="78.33" y="188.15" width="0.9" height="1.1" fill="#111" opacity="0.55"/>
<rect x="82.2" y="188.15" width="0.9" height="1.1" fill="#111" opacity="0.55"/>
<path d="M79.67 190.75 h3.92" stroke="#222" stroke-width="0.5" opacity="0.6"/>
<rect x="79.22" y="190.2" width="0.9" height="1.1" fill="#111" opacity="0.55"/>
<rect x="83.13" y="190.2" width="0.9" height="1.1" fill="#111" opacity="0.55"/>
<path d="M80.39 192.8 h3.96" stroke="#222" stroke-width="0.5" opacity="0.6"/>
<rect x="79.94" y="192.25" width="0.9" height="1.1" fill="#111" opacity="0.55"/>
<rect x="83.89" y="192.25" width="0.9" height="1.1" fill="#111" opacity="0.55"/>
<path d="M81.02 194.85 h4" stroke="#222" stroke-width="0.5" opacity="0.6"/>
<rect x="80.57" y="194.3" width="0.9" height="1.1" fill="#111" opacity="0.55"/>
<rect x="84.57" y="194.3" width="0.9" height="1.1" fill="#111" opacity="0.55"/>
<path d="M81.59 196.9 h4.04" stroke="#222" stroke-width="0.5" opacity="0.6"/>
<rect x="81.14" y="196.35" width="0.9" height="1.1" fill="#111" opacity="0.55"/>
<rect x="85.17" y="196.35" width="0.9" height="1.1" fill="#111" opacity="0.55"/>
<path d="M82.1 198.95 h4.08" stroke="#222" stroke-width="0.5" opacity="0.6"/>
<rect x="81.65" y="198.4" width="0.9" height="1.1" fill="#111" opacity="0.55"/>
<rect x="85.73" y="198.4" width="0.9" height="1.1" fill="#111" opacity="0.55"/>
<path d="M82.59 201 h4.12" stroke="#222" stroke-width="0.5" opacity="0.6"/>
<rect x="82.14" y="200.45" width="0.9" height="1.1" fill="#111" opacity="0.55"/>
<rect x="86.26" y="200.45" width="0.9" height="1.1" fill="#111" opacity="0.55"/>
<path d="M83.06 203.05 h4.16" stroke="#222" stroke-width="0.5" opacity="0.6"/>
<rect x="82.61" y="202.5" width="0.9" height="1.1" fill="#111" opacity="0.55"/>
<rect x="86.77" y="202.5" width="0.9" height="1.1" fill="#111" opacity="0.55"/>
<path d="M83.54 205.1 h4.2" stroke="#222" stroke-width="0.5" opacity="0.6"/>
<rect x="83.09" y="204.55" width="0.9" height="1.1" fill="#111" opacity="0.55"/>
<rect x="87.29" y="204.55" width="0.9" height="1.1" fill="#111" opacity="0.55"/>
<path d="M84.03 207.15 h4.18" stroke="#222" stroke-width="0.5" opacity="0.6"/>
<rect x="83.58" y="206.6" width="0.9" height="1.1" fill="#111" opacity="0.55"/>
<rect x="87.76" y="206.6" width="0.9" height="1.1" fill="#111" opacity="0.55"/>
<path d="M84.49 209.2 h4.16" stroke="#222" stroke-width="0.5" opacity="0.6"/>
<rect x="84.04" y="208.65" width="0.9" height="1.1" fill="#111" opacity="0.55"/>
<rect x="88.21" y="208.65" width="0.9" height="1.1" fill="#111" opacity="0.55"/>
<path d="M84.92 211.25 h4.15" stroke="#222" stroke-width="0.5" opacity="0.6"/>
<rect x="84.47" y="210.7" width="0.9" height="1.1" fill="#111" opacity="0.55"/>
<rect x="88.62" y="210.7" width="0.9" height="1.1" fill="#111" opacity="0.55"/>
<path d="M85.3 213.3 h4.13" stroke="#222" stroke-width="0.5" opacity="0.6"/>
<rect x="84.85" y="212.75" width="0.9" height="1.1" fill="#111" opacity="0.55"/>
<rect x="88.98" y="212.75" width="0.9" height="1.1" fill="#111" opacity="0.55"/>
<path d="M85.63 215.35 h4.11" stroke="#222" stroke-width="0.5" opacity="0.6"/>
<rect x="85.18" y="214.8" width="0.9" height="1.1" fill="#111" opacity="0.55"/>
<rect x="89.3" y="214.8" width="0.9" height="1.1" fill="#111" opacity="0.55"/>
<path d="M85.94 217.4 h4.1" stroke="#222" stroke-width="0.5" opacity="0.6"/>
<rect x="85.49" y="216.85" width="0.9" height="1.1" fill="#111" opacity="0.55"/>
<rect x="89.58" y="216.85" width="0.9" height="1.1" fill="#111" opacity="0.55"/>
<path d="M86.21 219.45 h4.08" stroke="#222" stroke-width="0.5" opacity="0.6"/>
<rect x="85.76" y="218.9" width="0.9" height="1.1" fill="#111" opacity="0.55"/>
<rect x="89.84" y="218.9" width="0.9" height="1.1" fill="#111" opacity="0.55"/>
<path d="M86.46 221.5 h4.06" stroke="#222" stroke-width="0.5" opacity="0.6"/>
<rect x="86.01" y="220.95" width="0.9" height="1.1" fill="#111" opacity="0.55"/>
<rect x="90.07" y="220.95" width="0.9" height="1.1" fill="#111" opacity="0.55"/>
<path d="M86.68 223.55 h4.05" stroke="#222" stroke-width="0.5" opacity="0.6"/>
<rect x="86.23" y="223" width="0.9" height="1.1" fill="#111" opacity="0.55"/>
<rect x="90.28" y="223" width="0.9" height="1.1" fill="#111" opacity="0.55"/>
<path d="M86.88 225.6 h4.03" stroke="#222" stroke-width="0.5" opacity="0.6"/>
<rect x="86.43" y="225.05" width="0.9" height="1.1" fill="#111" opacity="0.55"/>
<rect x="90.46" y="225.05" width="0.9" height="1.1" fill="#111" opacity="0.55"/>
<path d="M87.07 227.65 h4.01" stroke="#222" stroke-width="0.5" opacity="0.6"/>
<rect x="86.62" y="227.1" width="0.9" height="1.1" fill="#111" opacity="0.55"/>
<rect x="90.63" y="227.1" width="0.9" height="1.1" fill="#111" opacity="0.55"/>
<path d="M87.27 229.7 h3.99" stroke="#222" stroke-width="0.5" opacity="0.6"/>
<rect x="86.82" y="229.15" width="0.9" height="1.1" fill="#111" opacity="0.55"/>
<rect x="90.81" y="229.15" width="0.9" height="1.1" fill="#111" opacity="0.55"/>
<path d="M87.48 231.75 h3.96" stroke="#222" stroke-width="0.5" opacity="0.6"/>
<rect x="87.03" y="231.2" width="0.9" height="1.1" fill="#111" opacity="0.55"/>
<rect x="90.98" y="231.2" width="0.9" height="1.1" fill="#111" opacity="0.55"/>
<path d="M87.68 233.8 h3.93" stroke="#222" stroke-width="0.5" opacity="0.6"/>
<rect x="87.23" y="233.25" width="0.9" height="1.1" fill="#111" opacity="0.55"/>
<rect x="91.16" y="233.25" width="0.9" height="1.1" fill="#111" opacity="0.55"/>
<path d="M87.88 235.85 h3.89" stroke="#222" stroke-width="0.5" opacity="0.6"/>
<rect x="87.43" y="235.3" width="0.9" height="1.1" fill="#111" opacity="0.55"/>
<rect x="91.33" y="235.3" width="0.9" height="1.1" fill="#111" opacity="0.55"/>
<path d="M88.08 237.9 h3.86" stroke="#222" stroke-width="0.5" opacity="0.6"/>
<rect x="87.63" y="237.35" width="0.9" height="1.1" fill="#111" opacity="0.55"/>
<rect x="91.5" y="237.35" width="0.9" height="1.1" fill="#111" opacity="0.55"/>
<path d="M88.28 239.95 h3.83" stroke="#222" stroke-width="0.5" opacity="0.6"/>
<rect x="87.83" y="239.4" width="0.9" height="1.1" fill="#111" opacity="0.55"/>
<rect x="91.67" y="239.4" width="0.9" height="1.1" fill="#111" opacity="0.55"/>
<path d="M88.48 242 h3.8" stroke="#222" stroke-width="0.5" opacity="0.6"/>
<rect x="88.03" y="241.45" width="0.9" height="1.1" fill="#111" opacity="0.55"/>
<rect x="91.83" y="241.45" width="0.9" height="1.1" fill="#111" opacity="0.55"/>
<rect x="134.79" y="65.8" width="2.2" height="2.4" fill="#ff1a12"/>
<rect x="133.04" y="67.85" width="2.2" height="2.4" fill="#ff1a12"/>
<rect x="130.97" y="69.9" width="2.2" height="2.4" fill="#ff1a12"/>
<rect x="128.7" y="71.95" width="2.2" height="2.4" fill="#ff1a12"/>
<rect x="126.3" y="74" width="2.2" height="2.4" fill="#ff1a12"/>
<rect x="123.77" y="76.05" width="2.2" height="2.4" fill="#ff1a12"/>
<rect x="121.1" y="78.1" width="2.2" height="2.4" fill="#ff1a12"/>
<rect x="118.3" y="80.15" width="2.2" height="2.4" fill="#ff1a12"/>
<rect x="115.4" y="82.2" width="2.2" height="2.4" fill="#ff1a12"/>
<rect x="112.34" y="84.25" width="2.2" height="2.4" fill="#ff1a12"/>
<rect x="109.12" y="86.3" width="2.2" height="2.4" fill="#ff1a12"/>
<rect x="105.82" y="88.35" width="2.2" height="2.4" fill="#ff1a12"/>
<rect x="102.53" y="90.4" width="2.2" height="2.4" fill="#ff1a12"/>
<rect x="99.31" y="92.45" width="2.2" height="2.4" fill="#ff1a12"/>
<rect x="96.11" y="94.5" width="2.2" height="2.4" fill="#ff1a12"/>
<rect x="92.85" y="96.55" width="2.2" height="2.4" fill="#ff1a12"/>
<rect x="89.45" y="98.6" width="2.2" height="2.4" fill="#ff1a12"/>
<rect x="85.82" y="100.65" width="2.2" height="2.4" fill="#ff1a12"/>
<rect x="82.1" y="102.7" width="2.2" height="2.4" fill="#ff1a12"/>
<rect x="78.5" y="104.75" width="2.2" height="2.4" fill="#ff1a12"/>
<rect x="75" y="106.8" width="2.2" height="2.4" fill="#ff1a12"/>
<rect x="71.58" y="108.85" width="2.2" height="2.4" fill="#ff1a12"/>
<rect x="68.28" y="110.9" width="2.2" height="2.4" fill="#ff1a12"/>
<rect x="65.06" y="112.95" width="2.2" height="2.4" fill="#ff1a12"/>
<rect x="62.09" y="115" width="2.2" height="2.4" fill="#ff1a12"/>
<rect x="59.49" y="117.05" width="2.2" height="2.4" fill="#ff1a12"/>
<rect x="57.29" y="119.1" width="2.2" height="2.4" fill="#ff1a12"/>
<rect x="55.77" y="121.15" width="2.2" height="2.4" fill="#ff1a12"/>
<rect x="54.55" y="123.2" width="2.2" height="2.4" fill="#ff1a12"/>
<rect x="53.71" y="125.25" width="2.2" height="2.4" fill="#ff1a12"/>
<rect x="53.14" y="127.3" width="2.2" height="2.4" fill="#ff1a12"/>
<rect x="52.72" y="129.35" width="2.2" height="2.4" fill="#ff1a12"/>
<rect x="52.6" y="131.4" width="2.2" height="2.4" fill="#ff1a12"/>
<rect x="52.6" y="133.45" width="2.2" height="2.4" fill="#ff1a12"/>
<rect x="52.6" y="135.5" width="2.2" height="2.4" fill="#ff1a12"/>
<rect x="52.68" y="137.55" width="2.2" height="2.4" fill="#ff1a12"/>
<rect x="53.1" y="139.6" width="2.2" height="2.4" fill="#ff1a12"/>
<rect x="53.65" y="141.65" width="2.2" height="2.4" fill="#ff1a12"/>
<rect x="54.39" y="143.7" width="2.2" height="2.4" fill="#ff1a12"/>
<rect x="55.31" y="145.75" width="2.2" height="2.4" fill="#ff1a12"/>
<rect x="56.34" y="147.8" width="2.2" height="2.4" fill="#ff1a12"/>
<rect x="57.42" y="149.85" width="2.2" height="2.4" fill="#ff1a12"/>
<rect x="58.5" y="151.9" width="2.2" height="2.4" fill="#ff1a12"/>
<rect x="59.53" y="153.95" width="2.2" height="2.4" fill="#ff1a12"/>
<rect x="60.58" y="156" width="2.2" height="2.4" fill="#ff1a12"/>
<rect x="61.67" y="158.05" width="2.2" height="2.4" fill="#ff1a12"/>
<rect x="62.79" y="160.1" width="2.2" height="2.4" fill="#ff1a12"/>
<rect x="63.94" y="162.15" width="2.2" height="2.4" fill="#ff1a12"/>
<rect x="65.12" y="164.2" width="2.2" height="2.4" fill="#ff1a12"/>
<rect x="66.33" y="166.25" width="2.2" height="2.4" fill="#ff1a12"/>
<rect x="67.59" y="168.3" width="2.2" height="2.4" fill="#ff1a12"/>
<rect x="68.94" y="170.35" width="2.2" height="2.4" fill="#ff1a12"/>
<rect x="70.33" y="172.4" width="2.2" height="2.4" fill="#ff1a12"/>
<rect x="71.75" y="174.45" width="2.2" height="2.4" fill="#ff1a12"/>
<rect x="73.14" y="176.5" width="2.2" height="2.4" fill="#ff1a12"/>
<rect x="74.47" y="178.55" width="2.2" height="2.4" fill="#ff1a12"/>
<rect x="75.72" y="180.6" width="2.2" height="2.4" fill="#ff1a12"/>
<rect x="76.93" y="182.65" width="2.2" height="2.4" fill="#ff1a12"/>
<rect x="78.12" y="184.7" width="2.2" height="2.4" fill="#ff1a12"/>
<rect x="79.24" y="186.75" width="2.2" height="2.4" fill="#ff1a12"/>
<rect x="80.22" y="188.8" width="2.2" height="2.4" fill="#ff1a12"/>
<rect x="81.01" y="190.85" width="2.2" height="2.4" fill="#ff1a12"/>
<rect x="81.69" y="192.9" width="2.2" height="2.4" fill="#ff1a12"/>
<rect x="82.3" y="194.95" width="2.2" height="2.4" fill="#ff1a12"/>
<rect x="82.85" y="197" width="2.2" height="2.4" fill="#ff1a12"/>
<rect x="83.37" y="199.05" width="2.2" height="2.4" fill="#ff1a12"/>
<rect x="83.86" y="201.1" width="2.2" height="2.4" fill="#ff1a12"/>
<rect x="84.36" y="203.15" width="2.2" height="2.4" fill="#ff1a12"/>
<rect x="84.84" y="205.2" width="2.2" height="2.4" fill="#ff1a12"/>
<rect x="85.31" y="207.25" width="2.2" height="2.4" fill="#ff1a12"/>
<rect x="85.75" y="209.3" width="2.2" height="2.4" fill="#ff1a12"/>
<rect x="86.14" y="211.35" width="2.2" height="2.4" fill="#ff1a12"/>
<rect x="86.48" y="213.4" width="2.2" height="2.4" fill="#ff1a12"/>
<rect x="86.78" y="215.45" width="2.2" height="2.4" fill="#ff1a12"/>
<rect x="87.06" y="217.5" width="2.2" height="2.4" fill="#ff1a12"/>
<rect x="87.3" y="219.55" width="2.2" height="2.4" fill="#ff1a12"/>
<rect x="87.53" y="221.6" width="2.2" height="2.4" fill="#ff1a12"/>
<rect x="87.73" y="223.65" width="2.2" height="2.4" fill="#ff1a12"/>
<rect x="87.91" y="225.7" width="2.2" height="2.4" fill="#ff1a12"/>
<rect x="88.1" y="227.75" width="2.2" height="2.4" fill="#ff1a12"/>
<rect x="88.29" y="229.8" width="2.2" height="2.4" fill="#ff1a12"/>
<rect x="88.47" y="231.85" width="2.2" height="2.4" fill="#ff1a12"/>
<rect x="88.66" y="233.9" width="2.2" height="2.4" fill="#ff1a12"/>
<rect x="88.85" y="235.95" width="2.2" height="2.4" fill="#ff1a12"/>
<rect x="89.03" y="238" width="2.2" height="2.4" fill="#ff1a12"/>
<rect x="89.22" y="240.05" width="2.2" height="2.4" fill="#ff1a12"/>
<path d="M141.7 252 L141.97 252.45 L142.22 252.9 L142.46 253.35 L142.68 253.81 L142.89 254.26 L143.09 254.71 L143.28 255.16 L143.46 255.61 L143.62 256.06 L143.77 256.51 L143.89 256.96 L143.99 257.42 L144.09 257.87 L144.18 258.32 L144.26 258.77 L144.34 259.22 L144.41 259.67 L144.47 260.12 L144.54 260.57 L144.59 261.03 L144.64 261.48 L144.69 261.93 L144.74 262.38 L144.78 262.83 L144.82 263.28 L144.86 263.73 L144.89 264.18 L144.93 264.64 L144.95 265.09 L144.98 265.54 L145 265.99 L145.02 266.44 L145.03 266.89 L145.05 267.34 L145.07 267.79 L145.08 268.25 L145.09 268.7 L145.1 269.15 L145.1 269.6" fill="none" stroke="#ff1a12" stroke-width="2.2"/>
<circle cx="93.6" cy="244.6" r="1.3" fill="#ff1a12"/>
<circle cx="104.5" cy="246.5" r="1.3" fill="#ff1a12"/>
<circle cx="122.2" cy="248.3" r="1.3" fill="#ff1a12"/>
<circle cx="135.8" cy="250.3" r="1.3" fill="#ff1a12"/>
<rect x="135.55" y="64.25" width="3.3" height="3.3" fill="#fff" fill-opacity="0.45" stroke="#1818f0" stroke-width="1.05"/>
<rect x="105.75" y="64.25" width="3.3" height="3.3" fill="#fff" fill-opacity="0.45" stroke="#1818f0" stroke-width="1.05"/>
<rect x="73.35" y="64.95" width="3.3" height="3.3" fill="#fff" fill-opacity="0.45" stroke="#1818f0" stroke-width="1.05"/>
<rect x="43.55" y="66.65" width="3.3" height="3.3" fill="#fff" fill-opacity="0.45" stroke="#1818f0" stroke-width="1.05"/>
<rect x="66.75" y="243.15" width="3.3" height="3.3" fill="#fff" fill-opacity="0.45" stroke="#1818f0" stroke-width="1.05"/>
<rect x="90.45" y="244.25" width="3.3" height="3.3" fill="#fff" fill-opacity="0.45" stroke="#1818f0" stroke-width="1.05"/>
<rect x="116.65" y="245.15" width="3.3" height="3.3" fill="#fff" fill-opacity="0.45" stroke="#1818f0" stroke-width="1.05"/>
<rect x="138.25" y="246.15" width="3.3" height="3.3" fill="#fff" fill-opacity="0.45" stroke="#1818f0" stroke-width="1.05"/>
<rect x="28.5" y="32.5" width="120.9" height="237.6" fill="none" stroke="#000" stroke-width="1.1"/>
<path d="M52.6 32.5 v2.6 M100.8 32.5 v2.6 M33.5 270.1 v-2.6 M89.5 270.1 v-2.6 M145 270.1 v-2.6 M28.5 71.6 h2.6 M149.4 71.6 h-2.6 M28.5 121.1 h2.6 M149.4 121.1 h-2.6 M28.5 170.8 h2.6 M149.4 170.8 h-2.6 M28.5 220.4 h2.6 M149.4 220.4 h-2.6" stroke="#000" stroke-width="0.9" fill="none"/>
<text x="0" y="11.9" font-size="14.2" fill="#111" font-weight="normal" font-style="normal" text-anchor="start" textLength="17.1" lengthAdjust="spacingAndGlyphs" stroke="#111" stroke-width="0.14">(a)</text>
<text x="26.4" y="15.7" font-size="10.8" fill="#1414ee" font-weight="normal" font-style="normal" text-anchor="start" textLength="124.9" lengthAdjust="spacingAndGlyphs" stroke="#1414ee" stroke-width="0.28">Gd Composition (at.%)</text>
<text x="46.1" y="27.3" font-size="10.7" fill="#1414ee" font-weight="normal" font-style="normal" text-anchor="start" textLength="13" lengthAdjust="spacingAndGlyphs" stroke="#1414ee" stroke-width="0.28">20</text>
<text x="94.3" y="27.3" font-size="10.7" fill="#1414ee" font-weight="normal" font-style="normal" text-anchor="start" textLength="13" lengthAdjust="spacingAndGlyphs" stroke="#1414ee" stroke-width="0.28">10</text>
<text x="145.75" y="27.3" font-size="10.7" fill="#1414ee" font-weight="normal" font-style="normal" text-anchor="start" textLength="6.5" lengthAdjust="spacingAndGlyphs" stroke="#1414ee" stroke-width="0.28">0</text>
<text x="152.6" y="76.25" font-size="11" fill="#111" font-weight="normal" font-style="normal" text-anchor="start" textLength="13" lengthAdjust="spacingAndGlyphs" stroke="#111" stroke-width="0.14">40</text>
<text x="152.6" y="125.55" font-size="11" fill="#111" font-weight="normal" font-style="normal" text-anchor="start" textLength="13" lengthAdjust="spacingAndGlyphs" stroke="#111" stroke-width="0.14">30</text>
<text x="152.6" y="175.25" font-size="11" fill="#111" font-weight="normal" font-style="normal" text-anchor="start" textLength="13" lengthAdjust="spacingAndGlyphs" stroke="#111" stroke-width="0.14">20</text>
<text x="152.6" y="224.85" font-size="11" fill="#111" font-weight="normal" font-style="normal" text-anchor="start" textLength="13" lengthAdjust="spacingAndGlyphs" stroke="#111" stroke-width="0.14">10</text>
<text x="152.6" y="274.55" font-size="11" fill="#111" font-weight="normal" font-style="normal" text-anchor="start" textLength="6.5" lengthAdjust="spacingAndGlyphs" stroke="#111" stroke-width="0.14">0</text>
<text transform="translate(177.8,195.8) rotate(-90)" font-size="11.5" fill="#111" stroke="#111" stroke-width="0.28" textLength="89.5" lengthAdjust="spacingAndGlyphs">Thickness (nm)</text>
<text x="30.3" y="281.2" font-size="10.8" fill="#ff1a12" font-weight="normal" font-style="normal" text-anchor="start" textLength="6.4" lengthAdjust="spacingAndGlyphs" stroke="#ff1a12" stroke-width="0.28">4</text>
<text x="86.3" y="281.2" font-size="10.8" fill="#ff1a12" font-weight="normal" font-style="normal" text-anchor="start" textLength="6.4" lengthAdjust="spacingAndGlyphs" stroke="#ff1a12" stroke-width="0.28">2</text>
<text x="141.8" y="281.2" font-size="10.8" fill="#ff1a12" font-weight="normal" font-style="normal" text-anchor="start" textLength="6.4" lengthAdjust="spacingAndGlyphs" stroke="#ff1a12" stroke-width="0.28">0</text>
<text x="25.8" y="295.9" font-size="10.8" fill="#ff1a12" font-weight="normal" font-style="normal" text-anchor="start" textLength="110.3" lengthAdjust="spacingAndGlyphs" stroke="#ff1a12" stroke-width="0.28">Magnetic SLD (x10</text>
<text x="136.9" y="292.9" font-size="8.8" fill="#ff1a12" font-weight="normal" font-style="normal" text-anchor="start" textLength="11.6" lengthAdjust="spacingAndGlyphs" stroke="#ff1a12" stroke-width="0.28">−3</text>
<text x="148.9" y="295.9" font-size="10.8" fill="#ff1a12" font-weight="normal" font-style="normal" text-anchor="start" textLength="4.2" lengthAdjust="spacingAndGlyphs" stroke="#ff1a12" stroke-width="0.28">)</text>
<text x="87.6" y="53.3" font-size="11" fill="#111" font-weight="bold" font-style="normal" text-anchor="start" textLength="9.6" lengthAdjust="spacingAndGlyphs" stroke="#111" stroke-width="0.35">Al</text>
<text x="76.9" y="159.1" font-size="10.6" fill="#111" font-weight="bold" font-style="normal" text-anchor="start" textLength="38.9" lengthAdjust="spacingAndGlyphs" stroke="#111" stroke-width="0.35">GdCoFe</text>
<text x="88.9" y="263.5" font-size="10.5" fill="#111" font-weight="bold" font-style="normal" text-anchor="start" textLength="10.1" lengthAdjust="spacingAndGlyphs" stroke="#111" stroke-width="0.35">Pt</text>
<rect x="532.8" y="32" width="120.9" height="238.1" fill="url(#bgC)"/>
<path d="M563.1 70.4 L562.19 76.33 L561.29 82.27 L560.39 88.2 L559.49 94.14 L558.59 100.07 L557.82 106.01 L557.06 111.94 L556.29 117.88 L555.52 123.81 L554.75 129.74 L553.99 135.68 L553.21 141.61 L552.37 147.55 L551.52 153.48 L550.68 159.42 L549.83 165.35 L548.98 171.29 L548.14 177.22 L547.3 183.16 L546.48 189.09 L545.65 195.02 L544.83 200.96 L544 206.89 L543.18 212.83 L542.35 218.76 L541.46 224.7 L540.49 230.63 L539.53 236.57 L538.56 242.5" fill="none" stroke="#1414ee" stroke-width="3.6" opacity="0.75"/>
<rect x="560.87" y="68.3" width="4.2" height="4.2" fill="none" stroke="#1414ee" stroke-width="1.25"/>
<rect x="559.78" y="70.35" width="4.2" height="4.2" fill="none" stroke="#1414ee" stroke-width="1.25"/>
<rect x="560.47" y="72.4" width="4.2" height="4.2" fill="none" stroke="#1414ee" stroke-width="1.25"/>
<rect x="559.94" y="74.45" width="4.2" height="4.2" fill="none" stroke="#1414ee" stroke-width="1.25"/>
<rect x="559.6" y="76.5" width="4.2" height="4.2" fill="none" stroke="#1414ee" stroke-width="1.25"/>
<rect x="559.12" y="78.55" width="4.2" height="4.2" fill="none" stroke="#1414ee" stroke-width="1.25"/>
<rect x="558.57" y="80.6" width="4.2" height="4.2" fill="none" stroke="#1414ee" stroke-width="1.25"/>
<rect x="559.04" y="82.65" width="4.2" height="4.2" fill="none" stroke="#1414ee" stroke-width="1.25"/>
<rect x="558.12" y="84.7" width="4.2" height="4.2" fill="none" stroke="#1414ee" stroke-width="1.25"/>
<rect x="557.75" y="86.75" width="4.2" height="4.2" fill="none" stroke="#1414ee" stroke-width="1.25"/>
<rect x="558.11" y="88.8" width="4.2" height="4.2" fill="none" stroke="#1414ee" stroke-width="1.25"/>
<rect x="557.63" y="90.85" width="4.2" height="4.2" fill="none" stroke="#1414ee" stroke-width="1.25"/>
<rect x="556.57" y="92.9" width="4.2" height="4.2" fill="none" stroke="#1414ee" stroke-width="1.25"/>
<rect x="556.97" y="94.95" width="4.2" height="4.2" fill="none" stroke="#1414ee" stroke-width="1.25"/>
<rect x="556.04" y="97" width="4.2" height="4.2" fill="none" stroke="#1414ee" stroke-width="1.25"/>
<rect x="556.89" y="99.05" width="4.2" height="4.2" fill="none" stroke="#1414ee" stroke-width="1.25"/>
<rect x="556.76" y="101.1" width="4.2" height="4.2" fill="none" stroke="#1414ee" stroke-width="1.25"/>
<rect x="555.81" y="103.15" width="4.2" height="4.2" fill="none" stroke="#1414ee" stroke-width="1.25"/>
<rect x="556.21" y="105.2" width="4.2" height="4.2" fill="none" stroke="#1414ee" stroke-width="1.25"/>
<rect x="554.49" y="107.25" width="4.2" height="4.2" fill="none" stroke="#1414ee" stroke-width="1.25"/>
<rect x="555.04" y="109.3" width="4.2" height="4.2" fill="none" stroke="#1414ee" stroke-width="1.25"/>
<rect x="553.94" y="111.35" width="4.2" height="4.2" fill="none" stroke="#1414ee" stroke-width="1.25"/>
<rect x="554.36" y="113.4" width="4.2" height="4.2" fill="none" stroke="#1414ee" stroke-width="1.25"/>
<rect x="553.46" y="115.45" width="4.2" height="4.2" fill="none" stroke="#1414ee" stroke-width="1.25"/>
<rect x="553.26" y="117.5" width="4.2" height="4.2" fill="none" stroke="#1414ee" stroke-width="1.25"/>
<rect x="553.89" y="119.55" width="4.2" height="4.2" fill="none" stroke="#1414ee" stroke-width="1.25"/>
<rect x="552.92" y="121.6" width="4.2" height="4.2" fill="none" stroke="#1414ee" stroke-width="1.25"/>
<rect x="552.42" y="123.65" width="4.2" height="4.2" fill="none" stroke="#1414ee" stroke-width="1.25"/>
<rect x="552.37" y="125.7" width="4.2" height="4.2" fill="none" stroke="#1414ee" stroke-width="1.25"/>
<rect x="552.36" y="127.75" width="4.2" height="4.2" fill="none" stroke="#1414ee" stroke-width="1.25"/>
<rect x="552.32" y="129.8" width="4.2" height="4.2" fill="none" stroke="#1414ee" stroke-width="1.25"/>
<rect x="551.54" y="131.85" width="4.2" height="4.2" fill="none" stroke="#1414ee" stroke-width="1.25"/>
<rect x="552.11" y="133.9" width="4.2" height="4.2" fill="none" stroke="#1414ee" stroke-width="1.25"/>
<rect x="551.55" y="135.95" width="4.2" height="4.2" fill="none" stroke="#1414ee" stroke-width="1.25"/>
<rect x="551.33" y="138" width="4.2" height="4.2" fill="none" stroke="#1414ee" stroke-width="1.25"/>
<rect x="550.82" y="140.05" width="4.2" height="4.2" fill="none" stroke="#1414ee" stroke-width="1.25"/>
<rect x="551.3" y="142.1" width="4.2" height="4.2" fill="none" stroke="#1414ee" stroke-width="1.25"/>
<rect x="550.6" y="144.15" width="4.2" height="4.2" fill="none" stroke="#1414ee" stroke-width="1.25"/>
<rect x="549.52" y="146.2" width="4.2" height="4.2" fill="none" stroke="#1414ee" stroke-width="1.25"/>
<rect x="550.25" y="148.25" width="4.2" height="4.2" fill="none" stroke="#1414ee" stroke-width="1.25"/>
<rect x="550.46" y="150.3" width="4.2" height="4.2" fill="none" stroke="#1414ee" stroke-width="1.25"/>
<rect x="549.28" y="152.35" width="4.2" height="4.2" fill="none" stroke="#1414ee" stroke-width="1.25"/>
<rect x="549.73" y="154.4" width="4.2" height="4.2" fill="none" stroke="#1414ee" stroke-width="1.25"/>
<rect x="548.4" y="156.45" width="4.2" height="4.2" fill="none" stroke="#1414ee" stroke-width="1.25"/>
<rect x="548.53" y="158.5" width="4.2" height="4.2" fill="none" stroke="#1414ee" stroke-width="1.25"/>
<rect x="547.98" y="160.55" width="4.2" height="4.2" fill="none" stroke="#1414ee" stroke-width="1.25"/>
<rect x="547.7" y="162.6" width="4.2" height="4.2" fill="none" stroke="#1414ee" stroke-width="1.25"/>
<rect x="548.06" y="164.65" width="4.2" height="4.2" fill="none" stroke="#1414ee" stroke-width="1.25"/>
<rect x="547.31" y="166.7" width="4.2" height="4.2" fill="none" stroke="#1414ee" stroke-width="1.25"/>
<rect x="547.81" y="168.75" width="4.2" height="4.2" fill="none" stroke="#1414ee" stroke-width="1.25"/>
<rect x="546.74" y="170.8" width="4.2" height="4.2" fill="none" stroke="#1414ee" stroke-width="1.25"/>
<rect x="545.57" y="172.85" width="4.2" height="4.2" fill="none" stroke="#1414ee" stroke-width="1.25"/>
<rect x="545.82" y="174.9" width="4.2" height="4.2" fill="none" stroke="#1414ee" stroke-width="1.25"/>
<rect x="546.44" y="176.95" width="4.2" height="4.2" fill="none" stroke="#1414ee" stroke-width="1.25"/>
<rect x="545.31" y="179" width="4.2" height="4.2" fill="none" stroke="#1414ee" stroke-width="1.25"/>
<rect x="544.3" y="181.05" width="4.2" height="4.2" fill="none" stroke="#1414ee" stroke-width="1.25"/>
<rect x="544.44" y="183.1" width="4.2" height="4.2" fill="none" stroke="#1414ee" stroke-width="1.25"/>
<rect x="543.81" y="185.15" width="4.2" height="4.2" fill="none" stroke="#1414ee" stroke-width="1.25"/>
<rect x="545.28" y="187.2" width="4.2" height="4.2" fill="none" stroke="#1414ee" stroke-width="1.25"/>
<rect x="544.96" y="189.25" width="4.2" height="4.2" fill="none" stroke="#1414ee" stroke-width="1.25"/>
<rect x="544.35" y="191.3" width="4.2" height="4.2" fill="none" stroke="#1414ee" stroke-width="1.25"/>
<rect x="543.68" y="193.35" width="4.2" height="4.2" fill="none" stroke="#1414ee" stroke-width="1.25"/>
<rect x="543.71" y="195.4" width="4.2" height="4.2" fill="none" stroke="#1414ee" stroke-width="1.25"/>
<rect x="542.29" y="197.45" width="4.2" height="4.2" fill="none" stroke="#1414ee" stroke-width="1.25"/>
<rect x="542.24" y="199.5" width="4.2" height="4.2" fill="none" stroke="#1414ee" stroke-width="1.25"/>
<rect x="542.4" y="201.55" width="4.2" height="4.2" fill="none" stroke="#1414ee" stroke-width="1.25"/>
<rect x="541.79" y="203.6" width="4.2" height="4.2" fill="none" stroke="#1414ee" stroke-width="1.25"/>
<rect x="540.92" y="205.65" width="4.2" height="4.2" fill="none" stroke="#1414ee" stroke-width="1.25"/>
<rect x="542.41" y="207.7" width="4.2" height="4.2" fill="none" stroke="#1414ee" stroke-width="1.25"/>
<rect x="541.1" y="209.75" width="4.2" height="4.2" fill="none" stroke="#1414ee" stroke-width="1.25"/>
<rect x="540.93" y="211.8" width="4.2" height="4.2" fill="none" stroke="#1414ee" stroke-width="1.25"/>
<rect x="540.31" y="213.85" width="4.2" height="4.2" fill="none" stroke="#1414ee" stroke-width="1.25"/>
<rect x="539.9" y="215.9" width="4.2" height="4.2" fill="none" stroke="#1414ee" stroke-width="1.25"/>
<rect x="539.86" y="217.95" width="4.2" height="4.2" fill="none" stroke="#1414ee" stroke-width="1.25"/>
<rect x="540.41" y="220" width="4.2" height="4.2" fill="none" stroke="#1414ee" stroke-width="1.25"/>
<rect x="539.9" y="222.05" width="4.2" height="4.2" fill="none" stroke="#1414ee" stroke-width="1.25"/>
<rect x="538.89" y="224.1" width="4.2" height="4.2" fill="none" stroke="#1414ee" stroke-width="1.25"/>
<rect x="537.86" y="226.15" width="4.2" height="4.2" fill="none" stroke="#1414ee" stroke-width="1.25"/>
<rect x="539.01" y="228.2" width="4.2" height="4.2" fill="none" stroke="#1414ee" stroke-width="1.25"/>
<rect x="537.68" y="230.25" width="4.2" height="4.2" fill="none" stroke="#1414ee" stroke-width="1.25"/>
<rect x="537.94" y="232.3" width="4.2" height="4.2" fill="none" stroke="#1414ee" stroke-width="1.25"/>
<rect x="536.55" y="234.35" width="4.2" height="4.2" fill="none" stroke="#1414ee" stroke-width="1.25"/>
<rect x="537.42" y="236.4" width="4.2" height="4.2" fill="none" stroke="#1414ee" stroke-width="1.25"/>
<rect x="536.57" y="238.45" width="4.2" height="4.2" fill="none" stroke="#1414ee" stroke-width="1.25"/>
<line x1="652.9" y1="32" x2="652.9" y2="65.5" stroke="#1414ee" stroke-width="2.2"/>
<line x1="652.9" y1="247.1" x2="652.9" y2="270" stroke="#1414ee" stroke-width="2.2"/>
<path d="M597.44 72 h1.8" stroke="#222" stroke-width="0.5" opacity="0.6"/>
<rect x="596.94" y="71.4" width="1" height="1.2" fill="#111" opacity="0.7"/>
<rect x="598.74" y="71.4" width="1" height="1.2" fill="#111" opacity="0.7"/>
<path d="M592.32 74.05 h1.8" stroke="#222" stroke-width="0.5" opacity="0.6"/>
<rect x="591.82" y="73.45" width="1" height="1.2" fill="#111" opacity="0.7"/>
<rect x="593.62" y="73.45" width="1" height="1.2" fill="#111" opacity="0.7"/>
<path d="M589.37 76.1 h1.8" stroke="#222" stroke-width="0.5" opacity="0.6"/>
<rect x="588.87" y="75.5" width="1" height="1.2" fill="#111" opacity="0.7"/>
<rect x="590.67" y="75.5" width="1" height="1.2" fill="#111" opacity="0.7"/>
<path d="M586.84 78.15 h1.8" stroke="#222" stroke-width="0.5" opacity="0.6"/>
<rect x="586.34" y="77.55" width="1" height="1.2" fill="#111" opacity="0.7"/>
<rect x="588.14" y="77.55" width="1" height="1.2" fill="#111" opacity="0.7"/>
<path d="M585.13 80.2 h1.8" stroke="#222" stroke-width="0.5" opacity="0.6"/>
<rect x="584.63" y="79.6" width="1" height="1.2" fill="#111" opacity="0.7"/>
<rect x="586.43" y="79.6" width="1" height="1.2" fill="#111" opacity="0.7"/>
<path d="M584.01 82.25 h1.8" stroke="#222" stroke-width="0.5" opacity="0.6"/>
<rect x="583.51" y="81.65" width="1" height="1.2" fill="#111" opacity="0.7"/>
<rect x="585.31" y="81.65" width="1" height="1.2" fill="#111" opacity="0.7"/>
<path d="M583.13 84.3 h1.8" stroke="#222" stroke-width="0.5" opacity="0.6"/>
<rect x="582.63" y="83.7" width="1" height="1.2" fill="#111" opacity="0.7"/>
<rect x="584.43" y="83.7" width="1" height="1.2" fill="#111" opacity="0.7"/>
<path d="M582.31 86.35 h1.8" stroke="#222" stroke-width="0.5" opacity="0.6"/>
<rect x="581.81" y="85.75" width="1" height="1.2" fill="#111" opacity="0.7"/>
<rect x="583.61" y="85.75" width="1" height="1.2" fill="#111" opacity="0.7"/>
<path d="M581.57 88.4 h1.8" stroke="#222" stroke-width="0.5" opacity="0.6"/>
<rect x="581.07" y="87.8" width="1" height="1.2" fill="#111" opacity="0.7"/>
<rect x="582.87" y="87.8" width="1" height="1.2" fill="#111" opacity="0.7"/>
<path d="M580.9 90.45 h1.8" stroke="#222" stroke-width="0.5" opacity="0.6"/>
<rect x="580.4" y="89.85" width="1" height="1.2" fill="#111" opacity="0.7"/>
<rect x="582.2" y="89.85" width="1" height="1.2" fill="#111" opacity="0.7"/>
<path d="M580.27 92.5 h1.8" stroke="#222" stroke-width="0.5" opacity="0.6"/>
<rect x="579.77" y="91.9" width="1" height="1.2" fill="#111" opacity="0.7"/>
<rect x="581.57" y="91.9" width="1" height="1.2" fill="#111" opacity="0.7"/>
<path d="M579.66 94.55 h1.8" stroke="#222" stroke-width="0.5" opacity="0.6"/>
<rect x="579.16" y="93.95" width="1" height="1.2" fill="#111" opacity="0.7"/>
<rect x="580.96" y="93.95" width="1" height="1.2" fill="#111" opacity="0.7"/>
<path d="M579.03 96.6 h1.8" stroke="#222" stroke-width="0.5" opacity="0.6"/>
<rect x="578.53" y="96" width="1" height="1.2" fill="#111" opacity="0.7"/>
<rect x="580.33" y="96" width="1" height="1.2" fill="#111" opacity="0.7"/>
<path d="M578.37 98.65 h1.8" stroke="#222" stroke-width="0.5" opacity="0.6"/>
<rect x="577.87" y="98.05" width="1" height="1.2" fill="#111" opacity="0.7"/>
<rect x="579.67" y="98.05" width="1" height="1.2" fill="#111" opacity="0.7"/>
<path d="M577.65 100.7 h1.8" stroke="#222" stroke-width="0.5" opacity="0.6"/>
<rect x="577.15" y="100.1" width="1" height="1.2" fill="#111" opacity="0.7"/>
<rect x="578.95" y="100.1" width="1" height="1.2" fill="#111" opacity="0.7"/>
<path d="M576.88 102.75 h1.8" stroke="#222" stroke-width="0.5" opacity="0.6"/>
<rect x="576.38" y="102.15" width="1" height="1.2" fill="#111" opacity="0.7"/>
<rect x="578.18" y="102.15" width="1" height="1.2" fill="#111" opacity="0.7"/>
<path d="M576.08 104.8 h1.8" stroke="#222" stroke-width="0.5" opacity="0.6"/>
<rect x="575.58" y="104.2" width="1" height="1.2" fill="#111" opacity="0.7"/>
<rect x="577.38" y="104.2" width="1" height="1.2" fill="#111" opacity="0.7"/>
<path d="M575.26 106.85 h1.8" stroke="#222" stroke-width="0.5" opacity="0.6"/>
<rect x="574.76" y="106.25" width="1" height="1.2" fill="#111" opacity="0.7"/>
<rect x="576.56" y="106.25" width="1" height="1.2" fill="#111" opacity="0.7"/>
<path d="M574.42 108.9 h1.8" stroke="#222" stroke-width="0.5" opacity="0.6"/>
<rect x="573.92" y="108.3" width="1" height="1.2" fill="#111" opacity="0.7"/>
<rect x="575.72" y="108.3" width="1" height="1.2" fill="#111" opacity="0.7"/>
<path d="M573.57 110.95 h1.8" stroke="#222" stroke-width="0.5" opacity="0.6"/>
<rect x="573.07" y="110.35" width="1" height="1.2" fill="#111" opacity="0.7"/>
<rect x="574.87" y="110.35" width="1" height="1.2" fill="#111" opacity="0.7"/>
<path d="M572.72 113 h1.8" stroke="#222" stroke-width="0.5" opacity="0.6"/>
<rect x="572.22" y="112.4" width="1" height="1.2" fill="#111" opacity="0.7"/>
<rect x="574.02" y="112.4" width="1" height="1.2" fill="#111" opacity="0.7"/>
<path d="M571.86 115.05 h1.8" stroke="#222" stroke-width="0.5" opacity="0.6"/>
<rect x="571.36" y="114.45" width="1" height="1.2" fill="#111" opacity="0.7"/>
<rect x="573.16" y="114.45" width="1" height="1.2" fill="#111" opacity="0.7"/>
<path d="M571.02 117.1 h1.8" stroke="#222" stroke-width="0.5" opacity="0.6"/>
<rect x="570.52" y="116.5" width="1" height="1.2" fill="#111" opacity="0.7"/>
<rect x="572.32" y="116.5" width="1" height="1.2" fill="#111" opacity="0.7"/>
<path d="M570.19 119.15 h1.8" stroke="#222" stroke-width="0.5" opacity="0.6"/>
<rect x="569.69" y="118.55" width="1" height="1.2" fill="#111" opacity="0.7"/>
<rect x="571.49" y="118.55" width="1" height="1.2" fill="#111" opacity="0.7"/>
<path d="M569.38 121.2 h1.8" stroke="#222" stroke-width="0.5" opacity="0.6"/>
<rect x="568.88" y="120.6" width="1" height="1.2" fill="#111" opacity="0.7"/>
<rect x="570.68" y="120.6" width="1" height="1.2" fill="#111" opacity="0.7"/>
<path d="M568.6 123.25 h1.8" stroke="#222" stroke-width="0.5" opacity="0.6"/>
<rect x="568.1" y="122.65" width="1" height="1.2" fill="#111" opacity="0.7"/>
<rect x="569.9" y="122.65" width="1" height="1.2" fill="#111" opacity="0.7"/>
<path d="M567.84 125.3 h1.8" stroke="#222" stroke-width="0.5" opacity="0.6"/>
<rect x="567.34" y="124.7" width="1" height="1.2" fill="#111" opacity="0.7"/>
<rect x="569.14" y="124.7" width="1" height="1.2" fill="#111" opacity="0.7"/>
<path d="M567.1 127.35 h1.8" stroke="#222" stroke-width="0.5" opacity="0.6"/>
<rect x="566.6" y="126.75" width="1" height="1.2" fill="#111" opacity="0.7"/>
<rect x="568.4" y="126.75" width="1" height="1.2" fill="#111" opacity="0.7"/>
<path d="M566.36 129.4 h1.8" stroke="#222" stroke-width="0.5" opacity="0.6"/>
<rect x="565.86" y="128.8" width="1" height="1.2" fill="#111" opacity="0.7"/>
<rect x="567.66" y="128.8" width="1" height="1.2" fill="#111" opacity="0.7"/>
<path d="M565.62 131.45 h1.8" stroke="#222" stroke-width="0.5" opacity="0.6"/>
<rect x="565.12" y="130.85" width="1" height="1.2" fill="#111" opacity="0.7"/>
<rect x="566.92" y="130.85" width="1" height="1.2" fill="#111" opacity="0.7"/>
<path d="M564.86 133.5 h1.8" stroke="#222" stroke-width="0.5" opacity="0.6"/>
<rect x="564.36" y="132.9" width="1" height="1.2" fill="#111" opacity="0.7"/>
<rect x="566.16" y="132.9" width="1" height="1.2" fill="#111" opacity="0.7"/>
<path d="M564.09 135.55 h1.8" stroke="#222" stroke-width="0.5" opacity="0.6"/>
<rect x="563.59" y="134.95" width="1" height="1.2" fill="#111" opacity="0.7"/>
<rect x="565.39" y="134.95" width="1" height="1.2" fill="#111" opacity="0.7"/>
<path d="M563.3 137.6 h1.8" stroke="#222" stroke-width="0.5" opacity="0.6"/>
<rect x="562.8" y="137" width="1" height="1.2" fill="#111" opacity="0.7"/>
<rect x="564.6" y="137" width="1" height="1.2" fill="#111" opacity="0.7"/>
<path d="M562.47 139.65 h1.8" stroke="#222" stroke-width="0.5" opacity="0.6"/>
<rect x="561.97" y="139.05" width="1" height="1.2" fill="#111" opacity="0.7"/>
<rect x="563.77" y="139.05" width="1" height="1.2" fill="#111" opacity="0.7"/>
<path d="M561.59 141.7 h1.8" stroke="#222" stroke-width="0.5" opacity="0.6"/>
<rect x="561.09" y="141.1" width="1" height="1.2" fill="#111" opacity="0.7"/>
<rect x="562.89" y="141.1" width="1" height="1.2" fill="#111" opacity="0.7"/>
<path d="M560.62 143.75 h1.8" stroke="#222" stroke-width="0.5" opacity="0.6"/>
<rect x="560.12" y="143.15" width="1" height="1.2" fill="#111" opacity="0.7"/>
<rect x="561.92" y="143.15" width="1" height="1.2" fill="#111" opacity="0.7"/>
<path d="M559.58 145.8 h1.8" stroke="#222" stroke-width="0.5" opacity="0.6"/>
<rect x="559.08" y="145.2" width="1" height="1.2" fill="#111" opacity="0.7"/>
<rect x="560.88" y="145.2" width="1" height="1.2" fill="#111" opacity="0.7"/>
<path d="M558.54 147.85 h1.8" stroke="#222" stroke-width="0.5" opacity="0.6"/>
<rect x="558.04" y="147.25" width="1" height="1.2" fill="#111" opacity="0.7"/>
<rect x="559.84" y="147.25" width="1" height="1.2" fill="#111" opacity="0.7"/>
<path d="M557.56 149.9 h1.8" stroke="#222" stroke-width="0.5" opacity="0.6"/>
<rect x="557.06" y="149.3" width="1" height="1.2" fill="#111" opacity="0.7"/>
<rect x="558.86" y="149.3" width="1" height="1.2" fill="#111" opacity="0.7"/>
<path d="M556.69 151.95 h1.8" stroke="#222" stroke-width="0.5" opacity="0.6"/>
<rect x="556.19" y="151.35" width="1" height="1.2" fill="#111" opacity="0.7"/>
<rect x="557.99" y="151.35" width="1" height="1.2" fill="#111" opacity="0.7"/>
<path d="M555.86 154 h1.8" stroke="#222" stroke-width="0.5" opacity="0.6"/>
<rect x="555.36" y="153.4" width="1" height="1.2" fill="#111" opacity="0.7"/>
<rect x="557.16" y="153.4" width="1" height="1.2" fill="#111" opacity="0.7"/>
<path d="M555.08 156.05 h1.8" stroke="#222" stroke-width="0.5" opacity="0.6"/>
<rect x="554.58" y="155.45" width="1" height="1.2" fill="#111" opacity="0.7"/>
<rect x="556.38" y="155.45" width="1" height="1.2" fill="#111" opacity="0.7"/>
<path d="M554.35 158.1 h1.8" stroke="#222" stroke-width="0.5" opacity="0.6"/>
<rect x="553.85" y="157.5" width="1" height="1.2" fill="#111" opacity="0.7"/>
<rect x="555.65" y="157.5" width="1" height="1.2" fill="#111" opacity="0.7"/>
<path d="M553.71 160.15 h1.8" stroke="#222" stroke-width="0.5" opacity="0.6"/>
<rect x="553.21" y="159.55" width="1" height="1.2" fill="#111" opacity="0.7"/>
<rect x="555.01" y="159.55" width="1" height="1.2" fill="#111" opacity="0.7"/>
<path d="M553.15 162.2 h1.8" stroke="#222" stroke-width="0.5" opacity="0.6"/>
<rect x="552.65" y="161.6" width="1" height="1.2" fill="#111" opacity="0.7"/>
<rect x="554.45" y="161.6" width="1" height="1.2" fill="#111" opacity="0.7"/>
<path d="M552.62 164.25 h1.8" stroke="#222" stroke-width="0.5" opacity="0.6"/>
<rect x="552.12" y="163.65" width="1" height="1.2" fill="#111" opacity="0.7"/>
<rect x="553.92" y="163.65" width="1" height="1.2" fill="#111" opacity="0.7"/>
<path d="M552.14 166.3 h1.8" stroke="#222" stroke-width="0.5" opacity="0.6"/>
<rect x="551.64" y="165.7" width="1" height="1.2" fill="#111" opacity="0.7"/>
<rect x="553.44" y="165.7" width="1" height="1.2" fill="#111" opacity="0.7"/>
<path d="M551.73 168.35 h1.8" stroke="#222" stroke-width="0.5" opacity="0.6"/>
<rect x="551.23" y="167.75" width="1" height="1.2" fill="#111" opacity="0.7"/>
<rect x="553.03" y="167.75" width="1" height="1.2" fill="#111" opacity="0.7"/>
<path d="M551.43 170.4 h1.8" stroke="#222" stroke-width="0.5" opacity="0.6"/>
<rect x="550.93" y="169.8" width="1" height="1.2" fill="#111" opacity="0.7"/>
<rect x="552.73" y="169.8" width="1" height="1.2" fill="#111" opacity="0.7"/>
<path d="M551.22 172.45 h1.8" stroke="#222" stroke-width="0.5" opacity="0.6"/>
<rect x="550.72" y="171.85" width="1" height="1.2" fill="#111" opacity="0.7"/>
<rect x="552.52" y="171.85" width="1" height="1.2" fill="#111" opacity="0.7"/>
<path d="M551.03 174.5 h1.8" stroke="#222" stroke-width="0.5" opacity="0.6"/>
<rect x="550.53" y="173.9" width="1" height="1.2" fill="#111" opacity="0.7"/>
<rect x="552.33" y="173.9" width="1" height="1.2" fill="#111" opacity="0.7"/>
<path d="M550.87 176.55 h1.8" stroke="#222" stroke-width="0.5" opacity="0.6"/>
<rect x="550.37" y="175.95" width="1" height="1.2" fill="#111" opacity="0.7"/>
<rect x="552.17" y="175.95" width="1" height="1.2" fill="#111" opacity="0.7"/>
<path d="M550.75 178.6 h1.8" stroke="#222" stroke-width="0.5" opacity="0.6"/>
<rect x="550.25" y="178" width="1" height="1.2" fill="#111" opacity="0.7"/>
<rect x="552.05" y="178" width="1" height="1.2" fill="#111" opacity="0.7"/>
<path d="M550.7 180.65 h1.8" stroke="#222" stroke-width="0.5" opacity="0.6"/>
<rect x="550.2" y="180.05" width="1" height="1.2" fill="#111" opacity="0.7"/>
<rect x="552" y="180.05" width="1" height="1.2" fill="#111" opacity="0.7"/>
<path d="M550.77 182.7 h1.8" stroke="#222" stroke-width="0.5" opacity="0.6"/>
<rect x="550.27" y="182.1" width="1" height="1.2" fill="#111" opacity="0.7"/>
<rect x="552.07" y="182.1" width="1" height="1.2" fill="#111" opacity="0.7"/>
<path d="M551.02 184.75 h1.8" stroke="#222" stroke-width="0.5" opacity="0.6"/>
<rect x="550.52" y="184.15" width="1" height="1.2" fill="#111" opacity="0.7"/>
<rect x="552.32" y="184.15" width="1" height="1.2" fill="#111" opacity="0.7"/>
<path d="M551.22 186.8 h2.09" stroke="#222" stroke-width="0.5" opacity="0.6"/>
<rect x="550.72" y="186.2" width="1" height="1.2" fill="#111" opacity="0.7"/>
<rect x="552.81" y="186.2" width="1" height="1.2" fill="#111" opacity="0.7"/>
<path d="M551.55 188.85 h2.42" stroke="#222" stroke-width="0.5" opacity="0.6"/>
<rect x="551.05" y="188.25" width="1" height="1.2" fill="#111" opacity="0.7"/>
<rect x="553.47" y="188.25" width="1" height="1.2" fill="#111" opacity="0.7"/>
<path d="M552.18 190.9 h2.74" stroke="#222" stroke-width="0.5" opacity="0.6"/>
<rect x="551.68" y="190.3" width="1" height="1.2" fill="#111" opacity="0.7"/>
<rect x="554.43" y="190.3" width="1" height="1.2" fill="#111" opacity="0.7"/>
<path d="M553.07 192.95 h3.07" stroke="#222" stroke-width="0.5" opacity="0.6"/>
<rect x="552.57" y="192.35" width="1" height="1.2" fill="#111" opacity="0.7"/>
<rect x="555.64" y="192.35" width="1" height="1.2" fill="#111" opacity="0.7"/>
<path d="M554.64 195 h3.4" stroke="#222" stroke-width="0.5" opacity="0.6"/>
<rect x="554.14" y="194.4" width="1" height="1.2" fill="#111" opacity="0.7"/>
<rect x="557.54" y="194.4" width="1" height="1.2" fill="#111" opacity="0.7"/>
<path d="M556.8 197.05 h3.4" stroke="#222" stroke-width="0.5" opacity="0.6"/>
<rect x="556.3" y="196.45" width="1" height="1.2" fill="#111" opacity="0.7"/>
<rect x="559.7" y="196.45" width="1" height="1.2" fill="#111" opacity="0.7"/>
<path d="M559.4 199.1 h3.4" stroke="#222" stroke-width="0.5" opacity="0.6"/>
<rect x="558.9" y="198.5" width="1" height="1.2" fill="#111" opacity="0.7"/>
<rect x="562.3" y="198.5" width="1" height="1.2" fill="#111" opacity="0.7"/>
<path d="M562.12 201.15 h3.4" stroke="#222" stroke-width="0.5" opacity="0.6"/>
<rect x="561.62" y="200.55" width="1" height="1.2" fill="#111" opacity="0.7"/>
<rect x="565.02" y="200.55" width="1" height="1.2" fill="#111" opacity="0.7"/>
<path d="M564.77 203.2 h3.4" stroke="#222" stroke-width="0.5" opacity="0.6"/>
<rect x="564.27" y="202.6" width="1" height="1.2" fill="#111" opacity="0.7"/>
<rect x="567.67" y="202.6" width="1" height="1.2" fill="#111" opacity="0.7"/>
<path d="M567.46 205.25 h3.4" stroke="#222" stroke-width="0.5" opacity="0.6"/>
<rect x="566.96" y="204.65" width="1" height="1.2" fill="#111" opacity="0.7"/>
<rect x="570.36" y="204.65" width="1" height="1.2" fill="#111" opacity="0.7"/>
<path d="M570.24 207.3 h3.4" stroke="#222" stroke-width="0.5" opacity="0.6"/>
<rect x="569.74" y="206.7" width="1" height="1.2" fill="#111" opacity="0.7"/>
<rect x="573.14" y="206.7" width="1" height="1.2" fill="#111" opacity="0.7"/>
<path d="M573.15 209.35 h3.4" stroke="#222" stroke-width="0.5" opacity="0.6"/>
<rect x="572.65" y="208.75" width="1" height="1.2" fill="#111" opacity="0.7"/>
<rect x="576.05" y="208.75" width="1" height="1.2" fill="#111" opacity="0.7"/>
<path d="M576.15 211.4 h3.4" stroke="#222" stroke-width="0.5" opacity="0.6"/>
<rect x="575.65" y="210.8" width="1" height="1.2" fill="#111" opacity="0.7"/>
<rect x="579.05" y="210.8" width="1" height="1.2" fill="#111" opacity="0.7"/>
<path d="M579.22 213.45 h3.4" stroke="#222" stroke-width="0.5" opacity="0.6"/>
<rect x="578.72" y="212.85" width="1" height="1.2" fill="#111" opacity="0.7"/>
<rect x="582.12" y="212.85" width="1" height="1.2" fill="#111" opacity="0.7"/>
<path d="M582.4 215.5 h3.4" stroke="#222" stroke-width="0.5" opacity="0.6"/>
<rect x="581.9" y="214.9" width="1" height="1.2" fill="#111" opacity="0.7"/>
<rect x="585.3" y="214.9" width="1" height="1.2" fill="#111" opacity="0.7"/>
<path d="M585.73 217.55 h3.4" stroke="#222" stroke-width="0.5" opacity="0.6"/>
<rect x="585.23" y="216.95" width="1" height="1.2" fill="#111" opacity="0.7"/>
<rect x="588.63" y="216.95" width="1" height="1.2" fill="#111" opacity="0.7"/>
<path d="M588.96 219.6 h3.4" stroke="#222" stroke-width="0.5" opacity="0.6"/>
<rect x="588.46" y="219" width="1" height="1.2" fill="#111" opacity="0.7"/>
<rect x="591.86" y="219" width="1" height="1.2" fill="#111" opacity="0.7"/>
<path d="M591.82 221.65 h3.4" stroke="#222" stroke-width="0.5" opacity="0.6"/>
<rect x="591.32" y="221.05" width="1" height="1.2" fill="#111" opacity="0.7"/>
<rect x="594.72" y="221.05" width="1" height="1.2" fill="#111" opacity="0.7"/>
<path d="M594.24 223.7 h3.4" stroke="#222" stroke-width="0.5" opacity="0.6"/>
<rect x="593.74" y="223.1" width="1" height="1.2" fill="#111" opacity="0.7"/>
<rect x="597.14" y="223.1" width="1" height="1.2" fill="#111" opacity="0.7"/>
<path d="M596.63 225.75 h3.4" stroke="#222" stroke-width="0.5" opacity="0.6"/>
<rect x="596.13" y="225.15" width="1" height="1.2" fill="#111" opacity="0.7"/>
<rect x="599.53" y="225.15" width="1" height="1.2" fill="#111" opacity="0.7"/>
<path d="M599.39 227.8 h3.4" stroke="#222" stroke-width="0.5" opacity="0.6"/>
<rect x="598.89" y="227.2" width="1" height="1.2" fill="#111" opacity="0.7"/>
<rect x="602.29" y="227.2" width="1" height="1.2" fill="#111" opacity="0.7"/>
<path d="M602.44 229.85 h3.4" stroke="#222" stroke-width="0.5" opacity="0.6"/>
<rect x="601.94" y="229.25" width="1" height="1.2" fill="#111" opacity="0.7"/>
<rect x="605.34" y="229.25" width="1" height="1.2" fill="#111" opacity="0.7"/>
<path d="M605.57 231.9 h3.4" stroke="#222" stroke-width="0.5" opacity="0.6"/>
<rect x="605.07" y="231.3" width="1" height="1.2" fill="#111" opacity="0.7"/>
<rect x="608.47" y="231.3" width="1" height="1.2" fill="#111" opacity="0.7"/>
<path d="M608.6 233.95 h3.4" stroke="#222" stroke-width="0.5" opacity="0.6"/>
<rect x="608.1" y="233.35" width="1" height="1.2" fill="#111" opacity="0.7"/>
<rect x="611.5" y="233.35" width="1" height="1.2" fill="#111" opacity="0.7"/>
<path d="M611.32 236 h3.4" stroke="#222" stroke-width="0.5" opacity="0.6"/>
<rect x="610.82" y="235.4" width="1" height="1.2" fill="#111" opacity="0.7"/>
<rect x="614.22" y="235.4" width="1" height="1.2" fill="#111" opacity="0.7"/>
<path d="M613.54 238.05 h3.4" stroke="#222" stroke-width="0.5" opacity="0.6"/>
<rect x="613.04" y="237.45" width="1" height="1.2" fill="#111" opacity="0.7"/>
<rect x="616.44" y="237.45" width="1" height="1.2" fill="#111" opacity="0.7"/>
<path d="M615.52 240.1 h3.4" stroke="#222" stroke-width="0.5" opacity="0.6"/>
<rect x="615.02" y="239.5" width="1" height="1.2" fill="#111" opacity="0.7"/>
<rect x="618.42" y="239.5" width="1" height="1.2" fill="#111" opacity="0.7"/>
<path d="M617.69 242.15 h3.4" stroke="#222" stroke-width="0.5" opacity="0.6"/>
<rect x="617.19" y="241.55" width="1" height="1.2" fill="#111" opacity="0.7"/>
<rect x="620.59" y="241.55" width="1" height="1.2" fill="#111" opacity="0.7"/>
<path d="M620.58 244.2 h3.4" stroke="#222" stroke-width="0.5" opacity="0.6"/>
<rect x="620.08" y="243.6" width="1" height="1.2" fill="#111" opacity="0.7"/>
<rect x="623.48" y="243.6" width="1" height="1.2" fill="#111" opacity="0.7"/>
<path d="M590.4 76 L589.15 76.97 L587.97 77.95 L586.97 78.92 L586.23 79.9 L585.62 80.87 L585.11 81.85 L584.65 82.82 L584.23 83.8 L583.83 84.77 L583.44 85.75 L583.07 86.72 L582.71 87.7 L582.38 88.67 L582.06 89.65 L581.75 90.62 L581.45 91.6 L581.15 92.57 L580.86 93.55 L580.57 94.52 L580.27 95.5 L579.97 96.47 L579.66 97.45 L579.35 98.42 L579.01 99.39 L578.67 100.37 L578.31 101.34 L577.94 102.32 L577.57 103.29 L577.19 104.27 L576.8 105.24 L576.41 106.22 L576.02 107.19 L575.62 108.17 L575.22 109.14 L574.82 110.12 L574.41 111.09 L574 112.07 L573.6 113.04 L573.19 114.02 L572.79 114.99 L572.38 115.97 L571.98 116.94 L571.59 117.92 L571.19 118.89 L570.81 119.87 L570.42 120.84 L570.05 121.82 L569.68 122.79 L569.31 123.76 L568.95 124.74 L568.59 125.71 L568.24 126.69 L567.88 127.66 L567.53 128.64 L567.18 129.61 L566.83 130.59 L566.48 131.56 L566.12 132.54 L565.76 133.51 L565.4 134.49 L565.03 135.46 L564.65 136.44 L564.27 137.41 L563.88 138.39 L563.49 139.36 L563.08 140.34 L562.67 141.31 L562.22 142.29 L561.76 143.26 L561.28 144.24 L560.78 145.21 L560.28 146.18 L559.79 147.16 L559.3 148.13 L558.83 149.11 L558.38 150.08 L557.96 151.06 L557.56 152.03 L557.16 153.01 L556.77 153.98 L556.39 154.96 L556.02 155.93 L555.66 156.91 L555.32 157.88 L555 158.86 L554.7 159.83 L554.43 160.81 L554.16 161.78 L553.9 162.76 L553.65 163.73 L553.41 164.71 L553.17 165.68 L552.96 166.66 L552.76 167.63 L552.59 168.61 L552.44 169.58 L552.32 170.55 L552.21 171.53 L552.12 172.5 L552.02 173.48 L551.93 174.45 L551.85 175.43 L551.78 176.4 L551.71 177.38 L551.66 178.35 L551.63 179.33 L551.6 180.3 L551.6 181.28 L551.64 182.25 L551.72 183.23 L551.84 184.2 L551.99 185.18 L552.15 186.15 L552.32 187.13 L552.54 188.1 L552.84 189.08 L553.19 190.05 L553.61 191.03 L554.08 192" fill="none" stroke="#ff1a12" stroke-width="1.7"/>
<rect x="646.77" y="31.95" width="1.9" height="2.1" fill="#ff1a12"/>
<rect x="646.58" y="33.95" width="1.9" height="2.1" fill="#ff1a12"/>
<rect x="646.37" y="35.95" width="1.9" height="2.1" fill="#ff1a12"/>
<rect x="646.12" y="37.95" width="1.9" height="2.1" fill="#ff1a12"/>
<rect x="645.82" y="39.95" width="1.9" height="2.1" fill="#ff1a12"/>
<rect x="645.52" y="41.95" width="1.9" height="2.1" fill="#ff1a12"/>
<rect x="645.29" y="43.95" width="1.9" height="2.1" fill="#ff1a12"/>
<rect x="645.06" y="45.95" width="1.9" height="2.1" fill="#ff1a12"/>
<rect x="644.74" y="47.95" width="1.9" height="2.1" fill="#ff1a12"/>
<rect x="644.27" y="49.95" width="1.9" height="2.1" fill="#ff1a12"/>
<rect x="643.59" y="51.95" width="1.9" height="2.1" fill="#ff1a12"/>
<rect x="642.48" y="53.95" width="1.9" height="2.1" fill="#ff1a12"/>
<rect x="640.67" y="55.95" width="1.9" height="2.1" fill="#ff1a12"/>
<rect x="637.84" y="57.95" width="1.9" height="2.1" fill="#ff1a12"/>
<rect x="633.27" y="59.95" width="1.9" height="2.1" fill="#ff1a12"/>
<rect x="627.26" y="61.95" width="1.9" height="2.1" fill="#ff1a12"/>
<rect x="620.94" y="63.95" width="1.9" height="2.1" fill="#ff1a12"/>
<rect x="613.35" y="65.95" width="1.9" height="2.1" fill="#ff1a12"/>
<rect x="605.03" y="67.95" width="1.9" height="2.1" fill="#ff1a12"/>
<rect x="599.5" y="69.95" width="1.9" height="2.1" fill="#ff1a12"/>
<rect x="597.29" y="70.85" width="2.1" height="2.3" fill="#ff1a12"/>
<rect x="592.17" y="72.9" width="2.1" height="2.3" fill="#ff1a12"/>
<rect x="589.22" y="74.95" width="2.1" height="2.3" fill="#ff1a12"/>
<rect x="586.69" y="77" width="2.1" height="2.3" fill="#ff1a12"/>
<rect x="584.98" y="79.05" width="2.1" height="2.3" fill="#ff1a12"/>
<rect x="583.86" y="81.1" width="2.1" height="2.3" fill="#ff1a12"/>
<rect x="582.98" y="83.15" width="2.1" height="2.3" fill="#ff1a12"/>
<rect x="582.16" y="85.2" width="2.1" height="2.3" fill="#ff1a12"/>
<rect x="581.42" y="87.25" width="2.1" height="2.3" fill="#ff1a12"/>
<rect x="580.75" y="89.3" width="2.1" height="2.3" fill="#ff1a12"/>
<rect x="580.12" y="91.35" width="2.1" height="2.3" fill="#ff1a12"/>
<rect x="579.51" y="93.4" width="2.1" height="2.3" fill="#ff1a12"/>
<rect x="578.88" y="95.45" width="2.1" height="2.3" fill="#ff1a12"/>
<rect x="578.22" y="97.5" width="2.1" height="2.3" fill="#ff1a12"/>
<rect x="577.5" y="99.55" width="2.1" height="2.3" fill="#ff1a12"/>
<rect x="576.73" y="101.6" width="2.1" height="2.3" fill="#ff1a12"/>
<rect x="575.93" y="103.65" width="2.1" height="2.3" fill="#ff1a12"/>
<rect x="575.11" y="105.7" width="2.1" height="2.3" fill="#ff1a12"/>
<rect x="574.27" y="107.75" width="2.1" height="2.3" fill="#ff1a12"/>
<rect x="573.42" y="109.8" width="2.1" height="2.3" fill="#ff1a12"/>
<rect x="572.57" y="111.85" width="2.1" height="2.3" fill="#ff1a12"/>
<rect x="571.71" y="113.9" width="2.1" height="2.3" fill="#ff1a12"/>
<rect x="570.87" y="115.95" width="2.1" height="2.3" fill="#ff1a12"/>
<rect x="570.04" y="118" width="2.1" height="2.3" fill="#ff1a12"/>
<rect x="569.23" y="120.05" width="2.1" height="2.3" fill="#ff1a12"/>
<rect x="568.45" y="122.1" width="2.1" height="2.3" fill="#ff1a12"/>
<rect x="567.69" y="124.15" width="2.1" height="2.3" fill="#ff1a12"/>
<rect x="566.95" y="126.2" width="2.1" height="2.3" fill="#ff1a12"/>
<rect x="566.21" y="128.25" width="2.1" height="2.3" fill="#ff1a12"/>
<rect x="565.47" y="130.3" width="2.1" height="2.3" fill="#ff1a12"/>
<rect x="564.71" y="132.35" width="2.1" height="2.3" fill="#ff1a12"/>
<rect x="563.94" y="134.4" width="2.1" height="2.3" fill="#ff1a12"/>
<rect x="563.15" y="136.45" width="2.1" height="2.3" fill="#ff1a12"/>
<rect x="562.32" y="138.5" width="2.1" height="2.3" fill="#ff1a12"/>
<rect x="561.44" y="140.55" width="2.1" height="2.3" fill="#ff1a12"/>
<rect x="560.47" y="142.6" width="2.1" height="2.3" fill="#ff1a12"/>
<rect x="559.43" y="144.65" width="2.1" height="2.3" fill="#ff1a12"/>
<rect x="558.39" y="146.7" width="2.1" height="2.3" fill="#ff1a12"/>
<rect x="557.41" y="148.75" width="2.1" height="2.3" fill="#ff1a12"/>
<rect x="556.54" y="150.8" width="2.1" height="2.3" fill="#ff1a12"/>
<rect x="555.71" y="152.85" width="2.1" height="2.3" fill="#ff1a12"/>
<rect x="554.93" y="154.9" width="2.1" height="2.3" fill="#ff1a12"/>
<rect x="554.2" y="156.95" width="2.1" height="2.3" fill="#ff1a12"/>
<rect x="553.56" y="159" width="2.1" height="2.3" fill="#ff1a12"/>
<rect x="553" y="161.05" width="2.1" height="2.3" fill="#ff1a12"/>
<rect x="552.47" y="163.1" width="2.1" height="2.3" fill="#ff1a12"/>
<rect x="551.99" y="165.15" width="2.1" height="2.3" fill="#ff1a12"/>
<rect x="551.58" y="167.2" width="2.1" height="2.3" fill="#ff1a12"/>
<rect x="551.28" y="169.25" width="2.1" height="2.3" fill="#ff1a12"/>
<rect x="551.07" y="171.3" width="2.1" height="2.3" fill="#ff1a12"/>
<rect x="550.88" y="173.35" width="2.1" height="2.3" fill="#ff1a12"/>
<rect x="550.72" y="175.4" width="2.1" height="2.3" fill="#ff1a12"/>
<rect x="550.6" y="177.45" width="2.1" height="2.3" fill="#ff1a12"/>
<rect x="550.55" y="179.5" width="2.1" height="2.3" fill="#ff1a12"/>
<rect x="550.62" y="181.55" width="2.1" height="2.3" fill="#ff1a12"/>
<rect x="550.87" y="183.6" width="2.1" height="2.3" fill="#ff1a12"/>
<rect x="551.21" y="185.65" width="2.1" height="2.3" fill="#ff1a12"/>
<rect x="551.71" y="187.7" width="2.1" height="2.3" fill="#ff1a12"/>
<rect x="552.5" y="189.75" width="2.1" height="2.3" fill="#ff1a12"/>
<rect x="553.56" y="191.8" width="2.1" height="2.3" fill="#ff1a12"/>
<rect x="555.29" y="193.85" width="2.1" height="2.3" fill="#ff1a12"/>
<rect x="557.45" y="195.9" width="2.1" height="2.3" fill="#ff1a12"/>
<rect x="560.05" y="197.95" width="2.1" height="2.3" fill="#ff1a12"/>
<rect x="562.77" y="200" width="2.1" height="2.3" fill="#ff1a12"/>
<rect x="565.42" y="202.05" width="2.1" height="2.3" fill="#ff1a12"/>
<rect x="568.11" y="204.1" width="2.1" height="2.3" fill="#ff1a12"/>
<rect x="570.89" y="206.15" width="2.1" height="2.3" fill="#ff1a12"/>
<rect x="573.8" y="208.2" width="2.1" height="2.3" fill="#ff1a12"/>
<rect x="576.8" y="210.25" width="2.1" height="2.3" fill="#ff1a12"/>
<rect x="579.87" y="212.3" width="2.1" height="2.3" fill="#ff1a12"/>
<rect x="583.05" y="214.35" width="2.1" height="2.3" fill="#ff1a12"/>
<rect x="586.38" y="216.4" width="2.1" height="2.3" fill="#ff1a12"/>
<rect x="589.61" y="218.45" width="2.1" height="2.3" fill="#ff1a12"/>
<rect x="592.47" y="220.5" width="2.1" height="2.3" fill="#ff1a12"/>
<rect x="594.89" y="222.55" width="2.1" height="2.3" fill="#ff1a12"/>
<rect x="597.28" y="224.6" width="2.1" height="2.3" fill="#ff1a12"/>
<rect x="600.04" y="226.65" width="2.1" height="2.3" fill="#ff1a12"/>
<rect x="603.09" y="228.7" width="2.1" height="2.3" fill="#ff1a12"/>
<rect x="606.22" y="230.75" width="2.1" height="2.3" fill="#ff1a12"/>
<rect x="609.25" y="232.8" width="2.1" height="2.3" fill="#ff1a12"/>
<rect x="611.97" y="234.85" width="2.1" height="2.3" fill="#ff1a12"/>
<rect x="614.19" y="236.9" width="2.1" height="2.3" fill="#ff1a12"/>
<rect x="616.17" y="238.95" width="2.1" height="2.3" fill="#ff1a12"/>
<rect x="618.34" y="241" width="2.1" height="2.3" fill="#ff1a12"/>
<rect x="621.23" y="243.05" width="2.1" height="2.3" fill="#ff1a12"/>
<rect x="625.43" y="245.1" width="2.1" height="2.3" fill="#ff1a12"/>
<rect x="632.66" y="248.5" width="2" height="2.2" fill="#ff1a12"/>
<rect x="634.63" y="250.1" width="2" height="2.2" fill="#ff1a12"/>
<rect x="635.86" y="251.7" width="2" height="2.2" fill="#ff1a12"/>
<rect x="636.77" y="253.3" width="2" height="2.2" fill="#ff1a12"/>
<rect x="637.64" y="254.9" width="2" height="2.2" fill="#ff1a12"/>
<rect x="638.62" y="256.5" width="2" height="2.2" fill="#ff1a12"/>
<rect x="639.6" y="258.1" width="2" height="2.2" fill="#ff1a12"/>
<rect x="640.54" y="259.7" width="2" height="2.2" fill="#ff1a12"/>
<rect x="641.41" y="261.3" width="2" height="2.2" fill="#ff1a12"/>
<rect x="642.22" y="262.9" width="2" height="2.2" fill="#ff1a12"/>
<rect x="642.99" y="264.5" width="2" height="2.2" fill="#ff1a12"/>
<rect x="643.71" y="266.1" width="2" height="2.2" fill="#ff1a12"/>
<rect x="644.38" y="267.7" width="2" height="2.2" fill="#ff1a12"/>
<rect x="570.45" y="66.35" width="3.3" height="3.3" fill="#fff" fill-opacity="0.45" stroke="#1818f0" stroke-width="1.05"/>
<rect x="593.45" y="65.15" width="3.3" height="3.3" fill="#fff" fill-opacity="0.45" stroke="#1818f0" stroke-width="1.05"/>
<rect x="620.55" y="64.15" width="3.3" height="3.3" fill="#fff" fill-opacity="0.45" stroke="#1818f0" stroke-width="1.05"/>
<rect x="643.45" y="63.15" width="3.3" height="3.3" fill="#fff" fill-opacity="0.45" stroke="#1818f0" stroke-width="1.05"/>
<rect x="548.15" y="243.35" width="3.3" height="3.3" fill="#fff" fill-opacity="0.45" stroke="#1818f0" stroke-width="1.05"/>
<rect x="577.05" y="244.35" width="3.3" height="3.3" fill="#fff" fill-opacity="0.45" stroke="#1818f0" stroke-width="1.05"/>
<rect x="611.25" y="245.45" width="3.3" height="3.3" fill="#fff" fill-opacity="0.45" stroke="#1818f0" stroke-width="1.05"/>
<rect x="639.85" y="246.45" width="3.3" height="3.3" fill="#fff" fill-opacity="0.45" stroke="#1818f0" stroke-width="1.05"/>
<rect x="532.8" y="32" width="120.9" height="238.1" fill="none" stroke="#000" stroke-width="1.1"/>
<path d="M556.7 32 v2.6 M605 32 v2.6 M538.2 270.1 v-2.6 M593 270.1 v-2.6 M647.8 270.1 v-2.6 M532.8 71.3 h2.6 M653.7 71.3 h-2.6 M532.8 121 h2.6 M653.7 121 h-2.6 M532.8 170.6 h2.6 M653.7 170.6 h-2.6 M532.8 220.3 h2.6 M653.7 220.3 h-2.6" stroke="#000" stroke-width="0.9" fill="none"/>
<text x="504.2" y="12.7" font-size="14.2" fill="#111" font-weight="normal" font-style="normal" text-anchor="start" textLength="16.5" lengthAdjust="spacingAndGlyphs" stroke="#111" stroke-width="0.14">(c)</text>
<text x="530.9" y="15.8" font-size="10.8" fill="#1414ee" font-weight="normal" font-style="normal" text-anchor="start" textLength="125.2" lengthAdjust="spacingAndGlyphs" stroke="#1414ee" stroke-width="0.28">Gd Composition (at.%)</text>
<text x="550.2" y="27.1" font-size="10.7" fill="#1414ee" font-weight="normal" font-style="normal" text-anchor="start" textLength="13" lengthAdjust="spacingAndGlyphs" stroke="#1414ee" stroke-width="0.28">20</text>
<text x="598.7" y="27.1" font-size="10.7" fill="#1414ee" font-weight="normal" font-style="normal" text-anchor="start" textLength="13" lengthAdjust="spacingAndGlyphs" stroke="#1414ee" stroke-width="0.28">10</text>
<text x="650.05" y="27.1" font-size="10.7" fill="#1414ee" font-weight="normal" font-style="normal" text-anchor="start" textLength="6.5" lengthAdjust="spacingAndGlyphs" stroke="#1414ee" stroke-width="0.28">0</text>
<text x="656.8" y="75.95" font-size="11" fill="#111" font-weight="normal" font-style="normal" text-anchor="start" textLength="13" lengthAdjust="spacingAndGlyphs" stroke="#111" stroke-width="0.14">40</text>
<text x="656.8" y="125.55" font-size="11" fill="#111" font-weight="normal" font-style="normal" text-anchor="start" textLength="13" lengthAdjust="spacingAndGlyphs" stroke="#111" stroke-width="0.14">30</text>
<text x="656.8" y="175.15" font-size="11" fill="#111" font-weight="normal" font-style="normal" text-anchor="start" textLength="13" lengthAdjust="spacingAndGlyphs" stroke="#111" stroke-width="0.14">20</text>
<text x="656.8" y="224.85" font-size="11" fill="#111" font-weight="normal" font-style="normal" text-anchor="start" textLength="13" lengthAdjust="spacingAndGlyphs" stroke="#111" stroke-width="0.14">10</text>
<text x="656.8" y="274.55" font-size="11" fill="#111" font-weight="normal" font-style="normal" text-anchor="start" textLength="6.5" lengthAdjust="spacingAndGlyphs" stroke="#111" stroke-width="0.14">0</text>
<text transform="translate(682,195.8) rotate(-90)" font-size="11.5" fill="#111" stroke="#111" stroke-width="0.28" textLength="89.5" lengthAdjust="spacingAndGlyphs">Thickness (nm)</text>
<text x="535" y="281.2" font-size="10.8" fill="#ff1a12" font-weight="normal" font-style="normal" text-anchor="start" textLength="6.4" lengthAdjust="spacingAndGlyphs" stroke="#ff1a12" stroke-width="0.28">2</text>
<text x="589.8" y="281.2" font-size="10.8" fill="#ff1a12" font-weight="normal" font-style="normal" text-anchor="start" textLength="6.4" lengthAdjust="spacingAndGlyphs" stroke="#ff1a12" stroke-width="0.28">1</text>
<text x="644.6" y="281.2" font-size="10.8" fill="#ff1a12" font-weight="normal" font-style="normal" text-anchor="start" textLength="6.4" lengthAdjust="spacingAndGlyphs" stroke="#ff1a12" stroke-width="0.28">0</text>
<text x="529.9" y="295.9" font-size="10.8" fill="#ff1a12" font-weight="normal" font-style="normal" text-anchor="start" textLength="110.3" lengthAdjust="spacingAndGlyphs" stroke="#ff1a12" stroke-width="0.28">Magnetic SLD (x10</text>
<text x="641" y="292.9" font-size="8.8" fill="#ff1a12" font-weight="normal" font-style="normal" text-anchor="start" textLength="11.6" lengthAdjust="spacingAndGlyphs" stroke="#ff1a12" stroke-width="0.28">−3</text>
<text x="653" y="295.9" font-size="10.8" fill="#ff1a12" font-weight="normal" font-style="normal" text-anchor="start" textLength="4.2" lengthAdjust="spacingAndGlyphs" stroke="#ff1a12" stroke-width="0.28">)</text>
<text x="592.1" y="49.1" font-size="11" fill="#111" font-weight="bold" font-style="normal" text-anchor="start" textLength="10.2" lengthAdjust="spacingAndGlyphs" stroke="#111" stroke-width="0.35">Al</text>
<text x="583.5" y="155.2" font-size="10.6" fill="#111" font-weight="bold" font-style="normal" text-anchor="start" textLength="38.9" lengthAdjust="spacingAndGlyphs" stroke="#111" stroke-width="0.35">GdCoFe</text>
<text x="594.2" y="259.6" font-size="10.5" fill="#111" font-weight="bold" font-style="normal" text-anchor="start" textLength="10.1" lengthAdjust="spacingAndGlyphs" stroke="#111" stroke-width="0.35">Pt</text>
<text x="196.2" y="12.3" font-size="14.2" fill="#111" font-weight="normal" font-style="normal" text-anchor="start" textLength="18.1" lengthAdjust="spacingAndGlyphs" stroke="#111" stroke-width="0.14">(b)</text>
<line x1="372.9" y1="44.4" x2="372.9" y2="9" stroke="#2e6f8f" stroke-width="1.3"/>
<path d="M372.9 4.4 l-2.7 5.4 h5.4 z" fill="#2e6f8f"/>
<line x1="373.5" y1="43.8" x2="327.5" y2="43.8" stroke="#2e6f8f" stroke-width="1.3"/>
<path d="M322.7 43.8 l5.5 -2.6 v5.2 z" fill="#2e6f8f"/>
<line x1="372.6" y1="43.5" x2="339.2" y2="16.8" stroke="#ff1a12" stroke-width="1.4"/>
<path d="M335.9 14.1 l5.7 1.5 l-3.2 4.1 z" fill="#ff1a12"/>
<path d="M346.5 43.0 A26.4 26.4 0 0 1 352.1 27.3" fill="none" stroke="#111" stroke-width="1.25"/>
<text x="355.6" y="43.4" font-size="9.5" fill="#111" font-weight="normal" font-style="italic" text-anchor="start" textLength="5.6" lengthAdjust="spacingAndGlyphs" stroke="#111" stroke-width="0.14">θ</text>
<text x="313.8" y="12.4" font-size="9.3" fill="#111" font-weight="bold" font-style="normal" text-anchor="start" textLength="52.6" lengthAdjust="spacingAndGlyphs" stroke="#111" stroke-width="0.35">Gd moment</text>
<text x="313.8" y="47.5" font-size="9.5" fill="#111" font-weight="bold" font-style="normal" text-anchor="start" textLength="6" lengthAdjust="spacingAndGlyphs" stroke="#111" stroke-width="0.35">H</text>
<path fill-rule="evenodd" fill="#111" d="M241.7 47.7 h7.8 l-3.35 9.2 h-1.1 Z M244.45 49.3 h3.5 l-1.5 4.6 Z"/>
<text x="252.9" y="55.9" font-size="11.4" fill="#111" font-weight="bold" font-style="normal" text-anchor="start" textLength="36.8" lengthAdjust="spacingAndGlyphs" stroke="#111" stroke-width="0.35">Gd &gt; 0</text>
<path fill-rule="evenodd" fill="#111" d="M400.6 44.2 h7.8 l-3.35 9.2 h-1.1 Z M403.35 45.8 h3.5 l-1.5 4.6 Z"/>
<text x="412.1" y="52.3" font-size="11.4" fill="#111" font-weight="bold" font-style="normal" text-anchor="start" textLength="35.9" lengthAdjust="spacingAndGlyphs" stroke="#111" stroke-width="0.35">Gd &lt; 0</text>
<rect x="214.9" y="70" width="22" height="18.05" fill="#2f5672"/>
<rect x="214.9" y="87.45" width="22" height="18.05" fill="#3a6f88"/>
<rect x="214.9" y="104.9" width="22" height="18.05" fill="#4590a8"/>
<rect x="214.9" y="122.35" width="22" height="18.05" fill="#509fb7"/>
<rect x="214.9" y="139.8" width="22" height="18.05" fill="#5bbfd3"/>
<rect x="214.9" y="157.25" width="22" height="18.05" fill="#6adfeb"/>
<rect x="214.9" y="174.7" width="22" height="18.05" fill="#7fe3ec"/>
<rect x="214.9" y="192.15" width="22" height="18.05" fill="#98e9f0"/>
<rect x="214.9" y="209.6" width="22" height="18.05" fill="#b8f0f5"/>
<rect x="214.9" y="227.05" width="22" height="17.45" fill="#dcf8fa"/>
<g transform="translate(226.1,82.4) rotate(-94.48)">
<path d="M0 -1.35 H6.63 V-2.7 L10.53 0 L6.63 2.7 V1.35 H0 Z" fill="#ff1a12"/>
</g>
<g transform="translate(227.9,100.8) rotate(-120.17)">
<path d="M0 -1.35 H6.35 V-2.7 L10.25 0 L6.35 2.7 V1.35 H0 Z" fill="#ff1a12"/>
</g>
<g transform="translate(228.8,115.5) rotate(-151.74)">
<path d="M0 -1.35 H5.48 V-2.7 L9.38 0 L5.48 2.7 V1.35 H0 Z" fill="#ff1a12"/>
</g>
<g transform="translate(229.7,131.5) rotate(180)">
<path d="M0 -1.35 H5.3 V-2.7 L9.2 0 L5.3 2.7 V1.35 H0 Z" fill="#ff1a12"/>
</g>
<g transform="translate(229.7,149.6) rotate(-177.43)">
<path d="M0 -1.35 H5.31 V-2.7 L9.21 0 L5.31 2.7 V1.35 H0 Z" fill="#ff1a12"/>
</g>
<g transform="translate(229.2,168.6) rotate(-154.94)">
<path d="M0 -1.35 H4.9 V-2.7 L8.8 0 L4.9 2.7 V1.35 H0 Z" fill="#ff1a12"/>
</g>
<g transform="translate(229.2,185.6) rotate(-140.53)">
<path d="M0 -1.35 H5.21 V-2.7 L9.11 0 L5.21 2.7 V1.35 H0 Z" fill="#ff1a12"/>
</g>
<g transform="translate(229.2,203) rotate(-135)">
<path d="M0 -1.35 H6.58 V-2.7 L10.48 0 L6.58 2.7 V1.35 H0 Z" fill="#ff1a12"/>
</g>
<g transform="translate(230,222.4) rotate(-134.64)">
<path d="M0 -1.35 H7.78 V-2.7 L11.68 0 L7.78 2.7 V1.35 H0 Z" fill="#ff1a12"/>
</g>
<g transform="translate(230,240.3) rotate(-136.85)">
<path d="M0 -1.35 H7.37 V-2.7 L11.27 0 L7.37 2.7 V1.35 H0 Z" fill="#ff1a12"/>
</g>
<rect x="368.4" y="70" width="24.4" height="17.99" fill="#dcf8fa"/>
<rect x="368.4" y="87.39" width="24.4" height="17.99" fill="#b8f0f5"/>
<rect x="368.4" y="104.78" width="24.4" height="17.99" fill="#98e9f0"/>
<rect x="368.4" y="122.17" width="24.4" height="17.99" fill="#7fe3ec"/>
<rect x="368.4" y="139.56" width="24.4" height="17.99" fill="#6adfeb"/>
<rect x="368.4" y="156.95" width="24.4" height="17.99" fill="#5bbfd3"/>
<rect x="368.4" y="174.34" width="24.4" height="17.99" fill="#509fb7"/>
<rect x="368.4" y="191.73" width="24.4" height="17.99" fill="#4590a8"/>
<rect x="368.4" y="209.12" width="24.4" height="17.99" fill="#3a6f88"/>
<rect x="368.4" y="226.51" width="24.4" height="17.39" fill="#2f5672"/>
<g transform="translate(384.2,81.5) rotate(-136.92)">
<path d="M0 -1.35 H6.94 V-2.7 L10.84 0 L6.94 2.7 V1.35 H0 Z" fill="#ff1a12"/>
</g>
<g transform="translate(384.2,99.4) rotate(-148.35)">
<path d="M0 -1.35 H4.98 V-2.7 L8.88 0 L4.98 2.7 V1.35 H0 Z" fill="#ff1a12"/>
</g>
<g transform="translate(384.5,115.2) rotate(-161.37)">
<path d="M0 -1.35 H5.48 V-2.7 L9.38 0 L5.48 2.7 V1.35 H0 Z" fill="#ff1a12"/>
</g>
<g transform="translate(384.7,131.9) rotate(-173.59)">
<path d="M0 -1.35 H5.36 V-2.7 L9.26 0 L5.36 2.7 V1.35 H0 Z" fill="#ff1a12"/>
</g>
<g transform="translate(384.7,149.8) rotate(180)">
<path d="M0 -1.35 H5.3 V-2.7 L9.2 0 L5.3 2.7 V1.35 H0 Z" fill="#ff1a12"/>
</g>
<g transform="translate(384.8,166.9) rotate(-177.43)">
<path d="M0 -1.35 H5.31 V-2.7 L9.21 0 L5.31 2.7 V1.35 H0 Z" fill="#ff1a12"/>
</g>
<g transform="translate(384.8,183.9) rotate(-167.33)">
<path d="M0 -1.35 H5.52 V-2.7 L9.42 0 L5.52 2.7 V1.35 H0 Z" fill="#ff1a12"/>
</g>
<g transform="translate(384.8,200.8) rotate(-154.27)">
<path d="M0 -1.35 H5.61 V-2.7 L9.51 0 L5.61 2.7 V1.35 H0 Z" fill="#ff1a12"/>
</g>
<g transform="translate(384.8,221.5) rotate(-133.85)">
<path d="M0 -1.35 H6.94 V-2.7 L10.84 0 L6.94 2.7 V1.35 H0 Z" fill="#ff1a12"/>
</g>
<g transform="translate(382.2,240.8) rotate(-105.09)">
<path d="M0 -1.35 H5.62 V-2.7 L9.52 0 L5.62 2.7 V1.35 H0 Z" fill="#ff1a12"/>
</g>
<path d="M281.9 78.9 L282.12 79.7 L282.35 80.5 L282.58 81.31 L282.83 82.11 L283.08 82.91 L283.35 83.71 L283.62 84.51 L283.89 85.32 L284.18 86.12 L284.47 86.92 L284.77 87.72 L285.08 88.52 L285.4 89.33 L285.73 90.13 L286.07 90.93 L286.42 91.73 L286.78 92.53 L287.15 93.34 L287.53 94.14 L287.92 94.94 L288.32 95.74 L288.72 96.54 L289.13 97.35 L289.54 98.15 L289.97 98.95 L290.41 99.75 L290.85 100.55 L291.31 101.36 L291.78 102.16 L292.27 102.96 L292.77 103.76 L293.28 104.56 L293.81 105.37 L294.36 106.17 L294.92 106.97 L295.53 107.77 L296.17 108.57 L296.86 109.38 L297.58 110.18 L298.32 110.98 L299.08 111.78 L299.85 112.58 L300.62 113.39 L301.39 114.19 L302.15 114.99 L302.9 115.79 L303.62 116.59 L304.32 117.4 L305.02 118.2 L305.72 119 L306.42 119.8 L307.11 120.6 L307.8 121.41 L308.48 122.21 L309.16 123.01 L309.82 123.81 L310.49 124.61 L311.14 125.42 L311.81 126.22 L312.49 127.02 L313.18 127.82 L313.86 128.62 L314.53 129.43 L315.18 130.23 L315.8 131.03 L316.39 131.83 L316.94 132.63 L317.44 133.44 L317.89 134.24 L318.35 135.04 L318.83 135.84 L319.28 136.64 L319.68 137.45 L320 138.25 L320.21 139.05 L320.3 139.85 L320.14 140.65 L319.67 141.46 L319.01 142.26 L318.26 143.06 L317.53 143.86 L316.94 144.66 L316.51 145.47 L316.12 146.27 L315.76 147.07 L315.42 147.87 L315.1 148.67 L314.8 149.48 L314.5 150.28 L314.21 151.08 L313.91 151.88 L313.62 152.68 L313.32 153.49 L313.01 154.29 L312.68 155.09 L312.34 155.89 L311.99 156.69 L311.64 157.5 L311.28 158.3 L310.92 159.1 L310.57 159.9 L310.22 160.71 L309.87 161.51 L309.54 162.31 L309.22 163.11 L308.92 163.91 L308.63 164.72 L308.36 165.52 L308.09 166.32 L307.84 167.12 L307.59 167.92 L307.35 168.73 L307.11 169.53 L306.88 170.33 L306.65 171.13 L306.43 171.93 L306.21 172.74 L306 173.54 L305.78 174.34 L305.57 175.14 L305.36 175.94 L305.16 176.75 L304.95 177.55 L304.74 178.35 L304.53 179.15 L304.33 179.95 L304.12 180.76 L303.91 181.56 L303.7 182.36 L303.5 183.16 L303.3 183.96 L303.11 184.77 L302.92 185.57 L302.73 186.37 L302.55 187.17 L302.38 187.97 L302.22 188.78 L302.07 189.58 L301.91 190.38 L301.76 191.18 L301.61 191.98 L301.47 192.79 L301.33 193.59 L301.21 194.39 L301.09 195.19 L300.99 195.99 L300.91 196.8 L300.84 197.6 L300.78 198.4 L300.72 199.2 L300.66 200 L300.61 200.81 L300.56 201.61 L300.52 202.41 L300.48 203.21 L300.43 204.01 L300.4 204.82 L300.36 205.62 L300.32 206.42 L300.28 207.22 L300.24 208.02 L300.21 208.83 L300.17 209.63 L300.14 210.43 L300.1 211.23 L300.07 212.03 L300.04 212.84 L300.01 213.64 L299.98 214.44 L299.95 215.24 L299.92 216.04 L299.9 216.85 L299.87 217.65 L299.84 218.45 L299.82 219.25 L299.79 220.05 L299.76 220.86 L299.74 221.66 L299.72 222.46 L299.71 223.26 L299.7 224.06 L299.7 224.87 L299.7 225.67 L299.7 226.47 L299.7 227.27 L299.7 228.07 L299.7 228.88 L299.7 229.68 L299.7 230.48 L299.7 231.28 L299.7 232.08 L299.7 232.89 L299.7 233.69 L299.7 234.49 L299.7 235.29 L299.7 236.09 L299.7 236.9 L299.7 237.7 L299.7 238.5" fill="none" stroke="#1414ee" stroke-width="2.9" stroke-linejoin="round"/>
<rect x="283.16" y="85.35" width="2.8" height="2.8" rx="0.5" fill="#ff1a12"/>
<rect x="283.11" y="88.21" width="2.8" height="2.8" rx="0.5" fill="#ff1a12"/>
<rect x="287.34" y="91.78" width="2.8" height="2.8" rx="0.5" fill="#ff1a12"/>
<rect x="285.15" y="94.05" width="2.8" height="2.8" rx="0.5" fill="#ff1a12"/>
<rect x="286.39" y="97.43" width="2.8" height="2.8" rx="0.5" fill="#ff1a12"/>
<rect x="288.03" y="100.55" width="2.8" height="2.8" rx="0.5" fill="#ff1a12"/>
<rect x="292.95" y="103.43" width="2.8" height="2.8" rx="0.5" fill="#ff1a12"/>
<rect x="295.31" y="106.91" width="2.8" height="2.8" rx="0.5" fill="#ff1a12"/>
<rect x="294.93" y="109.97" width="2.8" height="2.8" rx="0.5" fill="#ff1a12"/>
<rect x="299.04" y="112.9" width="2.8" height="2.8" rx="0.5" fill="#ff1a12"/>
<rect x="301.97" y="116.33" width="2.8" height="2.8" rx="0.5" fill="#ff1a12"/>
<rect x="305.42" y="118.79" width="2.8" height="2.8" rx="0.5" fill="#ff1a12"/>
<rect x="308.55" y="122.64" width="2.8" height="2.8" rx="0.5" fill="#ff1a12"/>
<rect x="309.98" y="125.07" width="2.8" height="2.8" rx="0.5" fill="#ff1a12"/>
<rect x="312.98" y="129.02" width="2.8" height="2.8" rx="0.5" fill="#ff1a12"/>
<rect x="318.06" y="131.81" width="2.8" height="2.8" rx="0.5" fill="#ff1a12"/>
<rect x="319.51" y="135.11" width="2.8" height="2.8" rx="0.5" fill="#ff1a12"/>
<rect x="318.26" y="137.31" width="2.8" height="2.8" rx="0.5" fill="#ff1a12"/>
<rect x="318.31" y="140.97" width="2.8" height="2.8" rx="0.5" fill="#ff1a12"/>
<rect x="314.48" y="143.67" width="2.8" height="2.8" rx="0.5" fill="#ff1a12"/>
<rect x="313.32" y="147.06" width="2.8" height="2.8" rx="0.5" fill="#ff1a12"/>
<rect x="311.51" y="149.95" width="2.8" height="2.8" rx="0.5" fill="#ff1a12"/>
<rect x="311.24" y="153.73" width="2.8" height="2.8" rx="0.5" fill="#ff1a12"/>
<rect x="310.52" y="156.14" width="2.8" height="2.8" rx="0.5" fill="#ff1a12"/>
<rect x="307.67" y="159.45" width="2.8" height="2.8" rx="0.5" fill="#ff1a12"/>
<rect x="306.07" y="162.24" width="2.8" height="2.8" rx="0.5" fill="#ff1a12"/>
<rect x="306.51" y="165.2" width="2.8" height="2.8" rx="0.5" fill="#ff1a12"/>
<rect x="305.27" y="169.43" width="2.8" height="2.8" rx="0.5" fill="#ff1a12"/>
<rect x="304.74" y="172.6" width="2.8" height="2.8" rx="0.5" fill="#ff1a12"/>
<rect x="304.02" y="175.23" width="2.8" height="2.8" rx="0.5" fill="#ff1a12"/>
<rect x="303.03" y="177.9" width="2.8" height="2.8" rx="0.5" fill="#ff1a12"/>
<rect x="302.3" y="180.49" width="2.8" height="2.8" rx="0.5" fill="#ff1a12"/>
<rect x="301.61" y="183.03" width="2.8" height="2.8" rx="0.5" fill="#ff1a12"/>
<rect x="300.75" y="185.49" width="2.8" height="2.8" rx="0.5" fill="#ff1a12"/>
<rect x="301.03" y="188.18" width="2.8" height="2.8" rx="0.5" fill="#ff1a12"/>
<rect x="300.27" y="191.38" width="2.8" height="2.8" rx="0.5" fill="#ff1a12"/>
<rect x="299.88" y="193.87" width="2.8" height="2.8" rx="0.5" fill="#ff1a12"/>
<rect x="299.49" y="196.08" width="2.8" height="2.8" rx="0.5" fill="#ff1a12"/>
<rect x="298.83" y="198.94" width="2.8" height="2.8" rx="0.5" fill="#ff1a12"/>
<rect x="298.75" y="201.52" width="2.8" height="2.8" rx="0.5" fill="#ff1a12"/>
<rect x="298.6" y="204.76" width="2.8" height="2.8" rx="0.5" fill="#ff1a12"/>
<rect x="298.53" y="207.94" width="2.8" height="2.8" rx="0.5" fill="#ff1a12"/>
<rect x="298.85" y="210.15" width="2.8" height="2.8" rx="0.5" fill="#ff1a12"/>
<rect x="298.77" y="212.52" width="2.8" height="2.8" rx="0.5" fill="#ff1a12"/>
<rect x="298.88" y="215.91" width="2.8" height="2.8" rx="0.5" fill="#ff1a12"/>
<rect x="298.61" y="218.18" width="2.8" height="2.8" rx="0.5" fill="#ff1a12"/>
<rect x="298.63" y="221.19" width="2.8" height="2.8" rx="0.5" fill="#ff1a12"/>
<rect x="298.44" y="224.1" width="2.8" height="2.8" rx="0.5" fill="#ff1a12"/>
<rect x="298.42" y="226.14" width="2.8" height="2.8" rx="0.5" fill="#ff1a12"/>
<rect x="298.35" y="228.64" width="2.8" height="2.8" rx="0.5" fill="#ff1a12"/>
<rect x="298.02" y="231.97" width="2.8" height="2.8" rx="0.5" fill="#ff1a12"/>
<rect x="298.56" y="234.97" width="2.8" height="2.8" rx="0.5" fill="#ff1a12"/>
<rect x="298.62" y="237.15" width="2.8" height="2.8" rx="0.5" fill="#ff1a12"/>
<rect x="280.2" y="77.8" width="2.8" height="2.8" rx="0.5" fill="#ff1a12"/>
<rect x="282.4" y="77.6" width="2.8" height="2.8" rx="0.5" fill="#ff1a12"/>
<rect x="290.5" y="95.5" width="2.8" height="2.8" rx="0.5" fill="#ff1a12"/>
<rect x="307" y="116.8" width="2.8" height="2.8" rx="0.5" fill="#ff1a12"/>
<rect x="312" y="121" width="2.8" height="2.8" rx="0.5" fill="#ff1a12"/>
<rect x="320.5" y="138.5" width="2.8" height="2.8" rx="0.5" fill="#ff1a12"/>
<rect x="311.5" y="156.4" width="2.8" height="2.8" rx="0.5" fill="#ff1a12"/>
<rect x="275.6" y="71.4" width="48.5" height="174.7" fill="none" stroke="#4a4a4a" stroke-width="1.4"/>
<text x="259.3" y="77.9" font-size="10.8" fill="#ff1a12" font-weight="normal" font-style="normal" text-anchor="start" textLength="12.1" lengthAdjust="spacingAndGlyphs" stroke="#ff1a12" stroke-width="0.28">24</text>
<text x="259.3" y="108.8" font-size="10.8" fill="#ff1a12" font-weight="normal" font-style="normal" text-anchor="start" textLength="12.1" lengthAdjust="spacingAndGlyphs" stroke="#ff1a12" stroke-width="0.28">23</text>
<text x="259.3" y="139.5" font-size="10.8" fill="#ff1a12" font-weight="normal" font-style="normal" text-anchor="start" textLength="12.1" lengthAdjust="spacingAndGlyphs" stroke="#ff1a12" stroke-width="0.28">22</text>
<text x="259.3" y="170.2" font-size="10.8" fill="#ff1a12" font-weight="normal" font-style="normal" text-anchor="start" textLength="12.1" lengthAdjust="spacingAndGlyphs" stroke="#ff1a12" stroke-width="0.28">21</text>
<text x="259.3" y="200.8" font-size="10.8" fill="#ff1a12" font-weight="normal" font-style="normal" text-anchor="start" textLength="12.1" lengthAdjust="spacingAndGlyphs" stroke="#ff1a12" stroke-width="0.28">20</text>
<text x="259.3" y="231.5" font-size="10.8" fill="#ff1a12" font-weight="normal" font-style="normal" text-anchor="start" textLength="12.1" lengthAdjust="spacingAndGlyphs" stroke="#ff1a12" stroke-width="0.28">19</text>
<text x="327.8" y="83" font-size="10.8" fill="#1414ee" font-weight="normal" font-style="normal" text-anchor="start" textLength="12.8" lengthAdjust="spacingAndGlyphs" stroke="#1414ee" stroke-width="0.28">40</text>
<text x="327.8" y="106.6" font-size="10.8" fill="#1414ee" font-weight="normal" font-style="normal" text-anchor="start" textLength="12.8" lengthAdjust="spacingAndGlyphs" stroke="#1414ee" stroke-width="0.28">35</text>
<text x="327.8" y="130.2" font-size="10.8" fill="#1414ee" font-weight="normal" font-style="normal" text-anchor="start" textLength="12.8" lengthAdjust="spacingAndGlyphs" stroke="#1414ee" stroke-width="0.28">30</text>
<text x="327.8" y="153.7" font-size="10.8" fill="#1414ee" font-weight="normal" font-style="normal" text-anchor="start" textLength="12.8" lengthAdjust="spacingAndGlyphs" stroke="#1414ee" stroke-width="0.28">25</text>
<text x="327.8" y="177" font-size="10.8" fill="#1414ee" font-weight="normal" font-style="normal" text-anchor="start" textLength="12.8" lengthAdjust="spacingAndGlyphs" stroke="#1414ee" stroke-width="0.28">20</text>
<text x="327.8" y="200.5" font-size="10.8" fill="#1414ee" font-weight="normal" font-style="normal" text-anchor="start" textLength="12.8" lengthAdjust="spacingAndGlyphs" stroke="#1414ee" stroke-width="0.28">15</text>
<text x="327.8" y="224" font-size="10.8" fill="#1414ee" font-weight="normal" font-style="normal" text-anchor="start" textLength="12.8" lengthAdjust="spacingAndGlyphs" stroke="#1414ee" stroke-width="0.28">10</text>
<text x="327.8" y="247.9" font-size="10.8" fill="#1414ee" font-weight="normal" font-style="normal" text-anchor="start" textLength="6.4" lengthAdjust="spacingAndGlyphs" stroke="#1414ee" stroke-width="0.28">5</text>
<text x="271.6" y="257.2" font-size="10.8" fill="#111" font-weight="normal" font-style="normal" text-anchor="start" textLength="12.6" lengthAdjust="spacingAndGlyphs" stroke="#111" stroke-width="0.14">90</text>
<text x="293.3" y="257.2" font-size="10.8" fill="#111" font-weight="normal" font-style="normal" text-anchor="start" textLength="12.6" lengthAdjust="spacingAndGlyphs" stroke="#111" stroke-width="0.14">45</text>
<text x="318.45" y="257.2" font-size="10.8" fill="#111" font-weight="normal" font-style="normal" text-anchor="start" textLength="6.3" lengthAdjust="spacingAndGlyphs" stroke="#111" stroke-width="0.14">0</text>
<path d="M275.6 73.3 h2.4 M275.6 104.2 h2.4 M275.6 134.9 h2.4 M275.6 165.6 h2.4 M275.6 196.2 h2.4 M275.6 226.9 h2.4 M324.1 79 h-2.4 M324.1 102.6 h-2.4 M324.1 126.2 h-2.4 M324.1 149.7 h-2.4 M324.1 173 h-2.4 M324.1 196.5 h-2.4 M324.1 220 h-2.4 M324.1 243.9 h-2.4 M277.9 246.1 v-2.4 M277.9 71.4 v2.4 M299.6 246.1 v-2.4 M299.6 71.4 v2.4 M321.6 246.1 v-2.4 M321.6 71.4 v2.4" stroke="#222" stroke-width="0.9" fill="none"/>
<text x="296.2" y="272.15" font-size="10.6" fill="#111" font-weight="normal" font-style="italic" text-anchor="start" textLength="6.8" lengthAdjust="spacingAndGlyphs" stroke="#111" stroke-width="0.14">θ</text>
<path d="M450.8 78.5 L451.32 79.31 L451.83 80.12 L452.31 80.93 L452.77 81.73 L453.19 82.54 L453.58 83.35 L453.92 84.16 L454.22 84.97 L454.49 85.78 L454.74 86.59 L454.97 87.39 L455.18 88.2 L455.38 89.01 L455.57 89.82 L455.75 90.63 L455.92 91.44 L456.08 92.25 L456.23 93.05 L456.37 93.86 L456.5 94.67 L456.62 95.48 L456.74 96.29 L456.85 97.1 L456.96 97.91 L457.07 98.71 L457.19 99.52 L457.31 100.33 L457.44 101.14 L457.57 101.95 L457.71 102.76 L457.86 103.56 L458 104.37 L458.15 105.18 L458.29 105.99 L458.44 106.8 L458.59 107.61 L458.73 108.42 L458.87 109.22 L459.02 110.03 L459.15 110.84 L459.29 111.65 L459.43 112.46 L459.57 113.27 L459.71 114.08 L459.85 114.88 L460 115.69 L460.15 116.5 L460.29 117.31 L460.45 118.12 L460.6 118.93 L460.76 119.74 L460.91 120.54 L461.07 121.35 L461.23 122.16 L461.39 122.97 L461.56 123.78 L461.72 124.59 L461.88 125.4 L462.04 126.2 L462.2 127.01 L462.36 127.82 L462.52 128.63 L462.68 129.44 L462.83 130.25 L462.99 131.06 L463.15 131.86 L463.31 132.67 L463.47 133.48 L463.64 134.29 L463.8 135.1 L463.98 135.91 L464.16 136.72 L464.34 137.52 L464.53 138.33 L464.73 139.14 L464.93 139.95 L465.14 140.76 L465.35 141.57 L465.56 142.37 L465.78 143.18 L466 143.99 L466.22 144.8 L466.44 145.61 L466.67 146.42 L466.89 147.23 L467.12 148.03 L467.35 148.84 L467.59 149.65 L467.83 150.46 L468.07 151.27 L468.31 152.08 L468.56 152.89 L468.81 153.69 L469.07 154.5 L469.32 155.31 L469.58 156.12 L469.84 156.93 L470.11 157.74 L470.4 158.55 L470.7 159.35 L471 160.16 L471.31 160.97 L471.61 161.78 L471.91 162.59 L472.21 163.4 L472.49 164.21 L472.76 165.01 L473.02 165.82 L473.25 166.63 L473.48 167.44 L473.72 168.25 L473.97 169.06 L474.2 169.87 L474.4 170.67 L474.57 171.48 L474.67 172.29 L474.7 173.1 L474.68 173.91 L474.63 174.72 L474.56 175.53 L474.47 176.33 L474.36 177.14 L474.24 177.95 L474.12 178.76 L473.98 179.57 L473.79 180.38 L473.55 181.18 L473.29 181.99 L473 182.8 L472.7 183.61 L472.38 184.42 L472.07 185.23 L471.75 186.04 L471.41 186.84 L471.06 187.65 L470.68 188.46 L470.28 189.27 L469.85 190.08 L469.4 190.89 L468.93 191.7 L468.4 192.5 L467.8 193.31 L467.14 194.12 L466.44 194.93 L465.71 195.74 L464.98 196.55 L464.27 197.36 L463.58 198.16 L462.88 198.97 L462.17 199.78 L461.46 200.59 L460.75 201.4 L460.07 202.21 L459.41 203.02 L458.78 203.82 L458.2 204.63 L457.64 205.44 L457.1 206.25 L456.57 207.06 L456.06 207.87 L455.54 208.68 L455.01 209.48 L454.47 210.29 L453.91 211.1 L453.35 211.91 L452.78 212.72 L452.23 213.53 L451.69 214.34 L451.19 215.14 L450.71 215.95 L450.27 216.76 L449.85 217.57 L449.44 218.38 L449.05 219.19 L448.66 219.99 L448.29 220.8 L447.91 221.61 L447.54 222.42 L447.17 223.23 L446.79 224.04 L446.41 224.85 L446.03 225.65 L445.65 226.46 L445.27 227.27 L444.9 228.08 L444.53 228.89 L444.17 229.7 L443.81 230.51 L443.46 231.31 L443.12 232.12 L442.78 232.93 L442.44 233.74 L442.11 234.55 L441.78 235.36 L441.45 236.17 L441.13 236.97 L440.82 237.78 L440.51 238.59 L440.2 239.4" fill="none" stroke="#1414ee" stroke-width="2.9" stroke-linejoin="round"/>
<rect x="451.52" y="84.09" width="2.8" height="2.8" rx="0.5" fill="#ff1a12"/>
<rect x="455.37" y="87.35" width="2.8" height="2.8" rx="0.5" fill="#ff1a12"/>
<rect x="454.43" y="89.85" width="2.8" height="2.8" rx="0.5" fill="#ff1a12"/>
<rect x="454.01" y="92.41" width="2.8" height="2.8" rx="0.5" fill="#ff1a12"/>
<rect x="453.92" y="96.17" width="2.8" height="2.8" rx="0.5" fill="#ff1a12"/>
<rect x="456.36" y="98.17" width="2.8" height="2.8" rx="0.5" fill="#ff1a12"/>
<rect x="456.03" y="100.96" width="2.8" height="2.8" rx="0.5" fill="#ff1a12"/>
<rect x="455.81" y="104.68" width="2.8" height="2.8" rx="0.5" fill="#ff1a12"/>
<rect x="457.93" y="107.27" width="2.8" height="2.8" rx="0.5" fill="#ff1a12"/>
<rect x="457.07" y="110.38" width="2.8" height="2.8" rx="0.5" fill="#ff1a12"/>
<rect x="460.03" y="113.02" width="2.8" height="2.8" rx="0.5" fill="#ff1a12"/>
<rect x="457.36" y="115.47" width="2.8" height="2.8" rx="0.5" fill="#ff1a12"/>
<rect x="457.96" y="119.45" width="2.8" height="2.8" rx="0.5" fill="#ff1a12"/>
<rect x="460.19" y="122.2" width="2.8" height="2.8" rx="0.5" fill="#ff1a12"/>
<rect x="459.43" y="124.41" width="2.8" height="2.8" rx="0.5" fill="#ff1a12"/>
<rect x="461.88" y="128.07" width="2.8" height="2.8" rx="0.5" fill="#ff1a12"/>
<rect x="461.18" y="129.98" width="2.8" height="2.8" rx="0.5" fill="#ff1a12"/>
<rect x="463.65" y="133.15" width="2.8" height="2.8" rx="0.5" fill="#ff1a12"/>
<rect x="463.85" y="135.89" width="2.8" height="2.8" rx="0.5" fill="#ff1a12"/>
<rect x="464.4" y="139.61" width="2.8" height="2.8" rx="0.5" fill="#ff1a12"/>
<rect x="465.28" y="141.93" width="2.8" height="2.8" rx="0.5" fill="#ff1a12"/>
<rect x="466.08" y="144.57" width="2.8" height="2.8" rx="0.5" fill="#ff1a12"/>
<rect x="465.42" y="147.8" width="2.8" height="2.8" rx="0.5" fill="#ff1a12"/>
<rect x="468.31" y="150.38" width="2.8" height="2.8" rx="0.5" fill="#ff1a12"/>
<rect x="469.22" y="154.06" width="2.8" height="2.8" rx="0.5" fill="#ff1a12"/>
<rect x="470.5" y="156.44" width="2.8" height="2.8" rx="0.5" fill="#ff1a12"/>
<rect x="468.82" y="159.19" width="2.8" height="2.8" rx="0.5" fill="#ff1a12"/>
<rect x="472.13" y="162.96" width="2.8" height="2.8" rx="0.5" fill="#ff1a12"/>
<rect x="472.59" y="165.28" width="2.8" height="2.8" rx="0.5" fill="#ff1a12"/>
<rect x="471.96" y="168.6" width="2.8" height="2.8" rx="0.5" fill="#ff1a12"/>
<rect x="474.62" y="170.61" width="2.8" height="2.8" rx="0.5" fill="#ff1a12"/>
<rect x="472.15" y="174.4" width="2.8" height="2.8" rx="0.5" fill="#ff1a12"/>
<rect x="474.05" y="176.68" width="2.8" height="2.8" rx="0.5" fill="#ff1a12"/>
<rect x="471.35" y="179.72" width="2.8" height="2.8" rx="0.5" fill="#ff1a12"/>
<rect x="471.25" y="182.21" width="2.8" height="2.8" rx="0.5" fill="#ff1a12"/>
<rect x="471.16" y="185.64" width="2.8" height="2.8" rx="0.5" fill="#ff1a12"/>
<rect x="469.54" y="188.18" width="2.8" height="2.8" rx="0.5" fill="#ff1a12"/>
<rect x="468.47" y="191.7" width="2.8" height="2.8" rx="0.5" fill="#ff1a12"/>
<rect x="463.78" y="194.84" width="2.8" height="2.8" rx="0.5" fill="#ff1a12"/>
<rect x="462.53" y="197.61" width="2.8" height="2.8" rx="0.5" fill="#ff1a12"/>
<rect x="457.63" y="199.57" width="2.8" height="2.8" rx="0.5" fill="#ff1a12"/>
<rect x="457.84" y="202.77" width="2.8" height="2.8" rx="0.5" fill="#ff1a12"/>
<rect x="455.9" y="204.19" width="2.8" height="2.8" rx="0.5" fill="#ff1a12"/>
<rect x="455.01" y="207.4" width="2.8" height="2.8" rx="0.5" fill="#ff1a12"/>
<rect x="452.82" y="209.69" width="2.8" height="2.8" rx="0.5" fill="#ff1a12"/>
<rect x="450.21" y="212.47" width="2.8" height="2.8" rx="0.5" fill="#ff1a12"/>
<rect x="449.41" y="215.73" width="2.8" height="2.8" rx="0.5" fill="#ff1a12"/>
<rect x="446.4" y="218.09" width="2.8" height="2.8" rx="0.5" fill="#ff1a12"/>
<rect x="446.04" y="220.89" width="2.8" height="2.8" rx="0.5" fill="#ff1a12"/>
<rect x="444.02" y="224.12" width="2.8" height="2.8" rx="0.5" fill="#ff1a12"/>
<rect x="443.35" y="227.1" width="2.8" height="2.8" rx="0.5" fill="#ff1a12"/>
<rect x="442.36" y="229.65" width="2.8" height="2.8" rx="0.5" fill="#ff1a12"/>
<rect x="441.17" y="232.19" width="2.8" height="2.8" rx="0.5" fill="#ff1a12"/>
<rect x="439.35" y="235.76" width="2.8" height="2.8" rx="0.5" fill="#ff1a12"/>
<rect x="438.03" y="237.87" width="2.8" height="2.8" rx="0.5" fill="#ff1a12"/>
<rect x="449.2" y="77.2" width="2.8" height="2.8" rx="0.5" fill="#ff1a12"/>
<rect x="452.4" y="77.1" width="2.8" height="2.8" rx="0.5" fill="#ff1a12"/>
<rect x="475.3" y="178.6" width="2.8" height="2.8" rx="0.5" fill="#ff1a12"/>
<rect x="429.8" y="70.6" width="49.2" height="176.2" fill="none" stroke="#4a4a4a" stroke-width="1.4"/>
<text x="413.5" y="92" font-size="10.8" fill="#ff1a12" font-weight="normal" font-style="normal" text-anchor="start" textLength="12.1" lengthAdjust="spacingAndGlyphs" stroke="#ff1a12" stroke-width="0.28">19</text>
<text x="413.5" y="123.5" font-size="10.8" fill="#ff1a12" font-weight="normal" font-style="normal" text-anchor="start" textLength="12.1" lengthAdjust="spacingAndGlyphs" stroke="#ff1a12" stroke-width="0.28">20</text>
<text x="413.5" y="155.2" font-size="10.8" fill="#ff1a12" font-weight="normal" font-style="normal" text-anchor="start" textLength="12.1" lengthAdjust="spacingAndGlyphs" stroke="#ff1a12" stroke-width="0.28">21</text>
<text x="413.5" y="187.1" font-size="10.8" fill="#ff1a12" font-weight="normal" font-style="normal" text-anchor="start" textLength="12.1" lengthAdjust="spacingAndGlyphs" stroke="#ff1a12" stroke-width="0.28">22</text>
<text x="413.5" y="218.8" font-size="10.8" fill="#ff1a12" font-weight="normal" font-style="normal" text-anchor="start" textLength="12.1" lengthAdjust="spacingAndGlyphs" stroke="#ff1a12" stroke-width="0.28">23</text>
<text x="413.5" y="250.5" font-size="10.8" fill="#ff1a12" font-weight="normal" font-style="normal" text-anchor="start" textLength="12.1" lengthAdjust="spacingAndGlyphs" stroke="#ff1a12" stroke-width="0.28">24</text>
<text x="482.7" y="82.5" font-size="10.8" fill="#1414ee" font-weight="normal" font-style="normal" text-anchor="start" textLength="12.8" lengthAdjust="spacingAndGlyphs" stroke="#1414ee" stroke-width="0.28">40</text>
<text x="482.7" y="105.8" font-size="10.8" fill="#1414ee" font-weight="normal" font-style="normal" text-anchor="start" textLength="12.8" lengthAdjust="spacingAndGlyphs" stroke="#1414ee" stroke-width="0.28">35</text>
<text x="482.7" y="129.5" font-size="10.8" fill="#1414ee" font-weight="normal" font-style="normal" text-anchor="start" textLength="12.8" lengthAdjust="spacingAndGlyphs" stroke="#1414ee" stroke-width="0.28">30</text>
<text x="482.7" y="153.3" font-size="10.8" fill="#1414ee" font-weight="normal" font-style="normal" text-anchor="start" textLength="12.8" lengthAdjust="spacingAndGlyphs" stroke="#1414ee" stroke-width="0.28">25</text>
<text x="482.7" y="176.9" font-size="10.8" fill="#1414ee" font-weight="normal" font-style="normal" text-anchor="start" textLength="12.8" lengthAdjust="spacingAndGlyphs" stroke="#1414ee" stroke-width="0.28">20</text>
<text x="482.7" y="200.6" font-size="10.8" fill="#1414ee" font-weight="normal" font-style="normal" text-anchor="start" textLength="12.8" lengthAdjust="spacingAndGlyphs" stroke="#1414ee" stroke-width="0.28">15</text>
<text x="482.7" y="224.6" font-size="10.8" fill="#1414ee" font-weight="normal" font-style="normal" text-anchor="start" textLength="12.8" lengthAdjust="spacingAndGlyphs" stroke="#1414ee" stroke-width="0.28">10</text>
<text x="482.7" y="248.6" font-size="10.8" fill="#1414ee" font-weight="normal" font-style="normal" text-anchor="start" textLength="6.4" lengthAdjust="spacingAndGlyphs" stroke="#1414ee" stroke-width="0.28">5</text>
<text x="425.9" y="257.9" font-size="10.8" fill="#111" font-weight="normal" font-style="normal" text-anchor="start" textLength="12.6" lengthAdjust="spacingAndGlyphs" stroke="#111" stroke-width="0.14">90</text>
<text x="448.2" y="257.9" font-size="10.8" fill="#111" font-weight="normal" font-style="normal" text-anchor="start" textLength="12.6" lengthAdjust="spacingAndGlyphs" stroke="#111" stroke-width="0.14">45</text>
<text x="473.75" y="257.9" font-size="10.8" fill="#111" font-weight="normal" font-style="normal" text-anchor="start" textLength="6.3" lengthAdjust="spacingAndGlyphs" stroke="#111" stroke-width="0.14">0</text>
<path d="M429.8 87.4 h2.4 M429.8 118.9 h2.4 M429.8 150.6 h2.4 M429.8 182.5 h2.4 M429.8 214.2 h2.4 M429.8 245.9 h2.4 M479 78.5 h-2.4 M479 101.8 h-2.4 M479 125.5 h-2.4 M479 149.3 h-2.4 M479 172.9 h-2.4 M479 196.6 h-2.4 M479 220.6 h-2.4 M479 244.6 h-2.4 M432.2 246.8 v-2.4 M432.2 70.6 v2.4 M454.5 246.8 v-2.4 M454.5 70.6 v2.4 M476.9 246.8 v-2.4 M476.9 70.6 v2.4" stroke="#222" stroke-width="0.9" fill="none"/>
<text x="451.2" y="272.85" font-size="10.6" fill="#111" font-weight="normal" font-style="italic" text-anchor="start" textLength="6.8" lengthAdjust="spacingAndGlyphs" stroke="#111" stroke-width="0.14">θ</text>
<text transform="translate(253.3,226.2) rotate(-90)" font-size="11.6" fill="#ff1a12" stroke="#ff1a12" stroke-width="0.28" textLength="136" lengthAdjust="spacingAndGlyphs">Gd Composition (at.%)</text>
<text transform="translate(408.4,227.2) rotate(-90)" font-size="11.6" fill="#ff1a12" stroke="#ff1a12" stroke-width="0.28" textLength="137" lengthAdjust="spacingAndGlyphs">Gd Composition (at.%)</text>
<text transform="translate(352.6,204) rotate(-90)" font-size="11.4" fill="#1414ee" stroke="#1414ee" stroke-width="0.28" textLength="91.2" lengthAdjust="spacingAndGlyphs">Thickness (nm)</text>
<text transform="translate(507.6,204) rotate(-90)" font-size="11.4" fill="#1414ee" stroke="#1414ee" stroke-width="0.28" textLength="91.2" lengthAdjust="spacingAndGlyphs">Thickness (nm)</text>
<line x1="226" y1="281.15" x2="503.2" y2="279.55" stroke="#000" stroke-width="3.0"/>
<path d="M219.7 281.2 L227.2 277.5 V284.9 Z" fill="#000"/>
<text x="336.4" y="298.7" font-size="13.8" fill="#111" font-weight="bold" font-style="normal" text-anchor="start" textLength="44.2" lengthAdjust="spacingAndGlyphs" stroke="#111" stroke-width="0.35">H 0.1 T</text>
</svg>
</body></html>
